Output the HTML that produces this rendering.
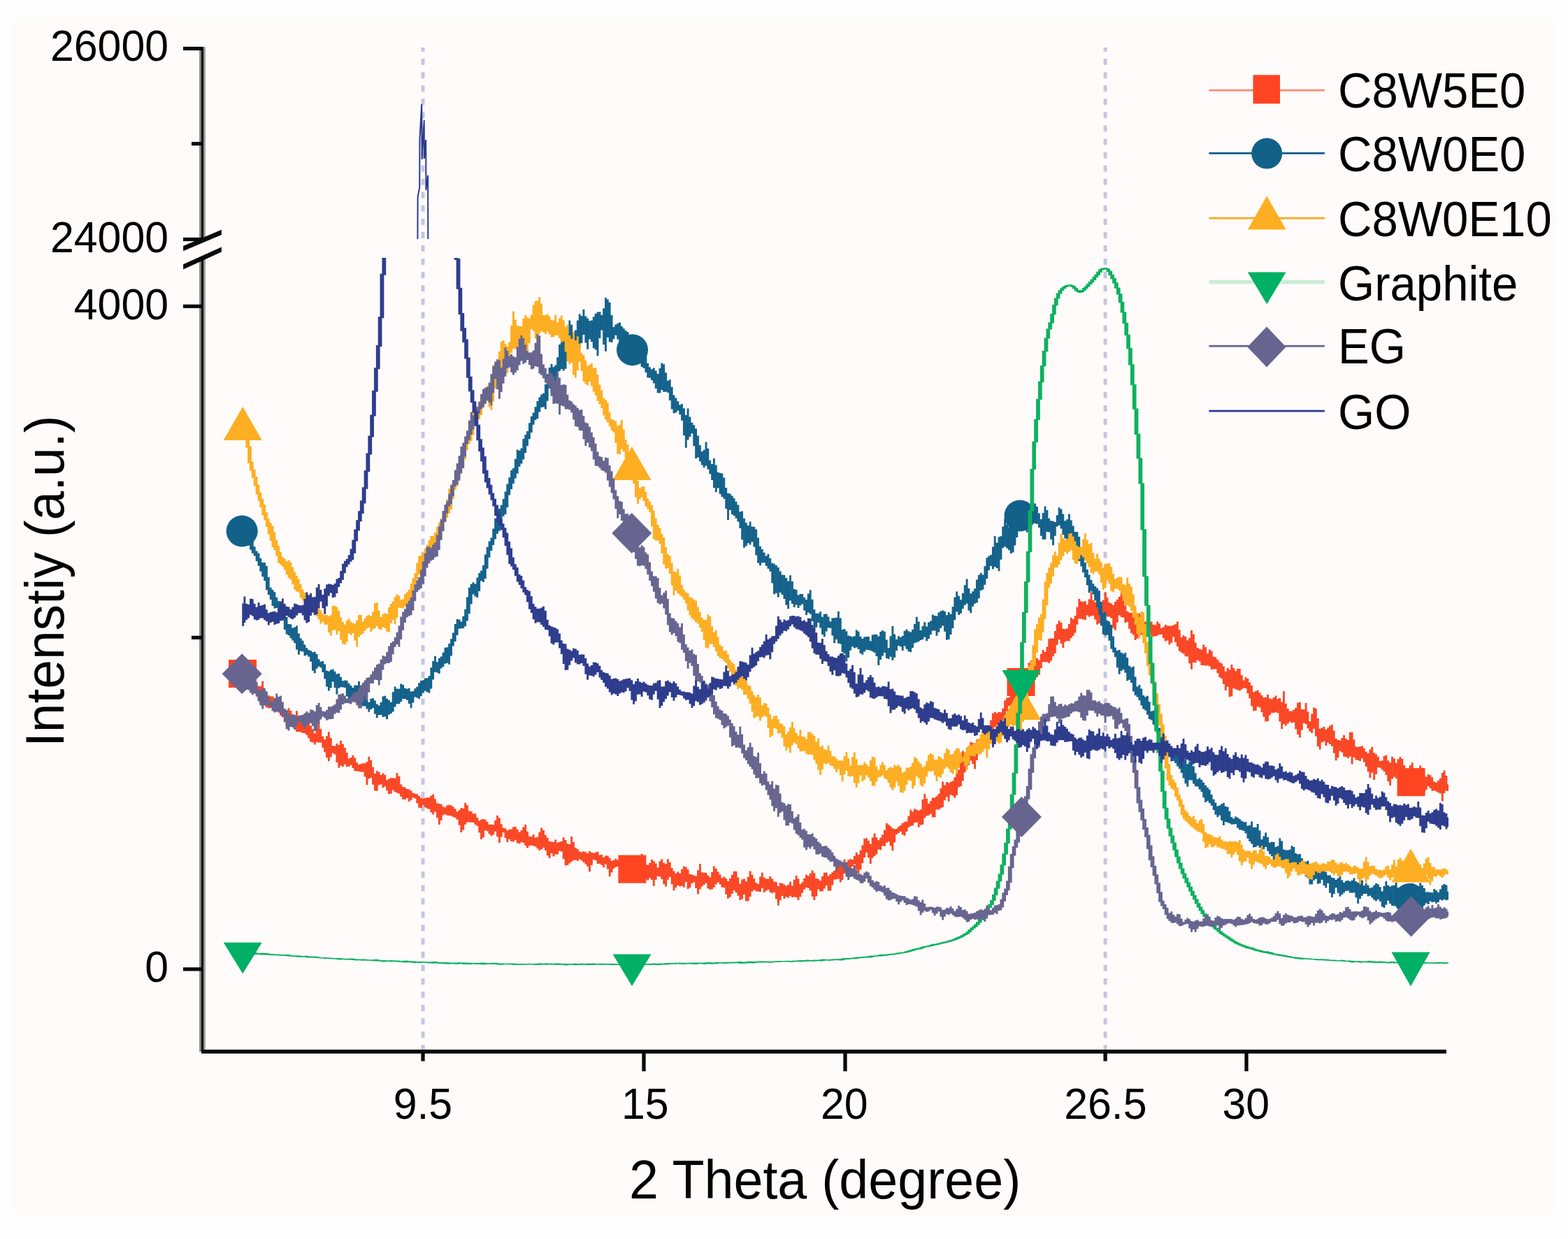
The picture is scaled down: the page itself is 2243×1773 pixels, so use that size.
<!DOCTYPE html>
<html><head><meta charset="utf-8"><title>XRD</title><style>html,body{margin:0;padding:0;background:#fefefe;overflow:hidden}svg{display:block}</style></head><body>
<svg xmlns="http://www.w3.org/2000/svg" width="2243" height="1773" viewBox="0 0 2243 1773">
<defs><clipPath id="cl"><rect x="290" y="369" width="1790" height="1134"/></clipPath><clipPath id="cu"><rect x="290" y="67" width="1790" height="275"/></clipPath></defs>
<rect x="0" y="0" width="2243" height="1773" fill="#fefefe"/>
<rect x="15" y="26" width="2212" height="1712" fill="#fefbfa"/>
<line x1="605.0" y1="68" x2="605.0" y2="1502" stroke="#c4c7df" stroke-width="5" stroke-dasharray="9 10.07" stroke-dashoffset="3"/>
<line x1="1581.1" y1="68" x2="1581.1" y2="1502" stroke="#c4c7df" stroke-width="5" stroke-dasharray="9 10.07" stroke-dashoffset="3"/>
<path fill="none" stroke="#fa4725" stroke-width="2.87" d="M347.7 962.2V970.9 M349.9 960.8V973.4 M352.7 965.0V978.6 M355.6 970.5V983.0 M358.5 974.7V983.8 M361.3 971.7V986.3 M364.2 976.3V989.4 M367.1 978.8V990.0 M370.0 982.1V1000.2 M372.8 981.8V1007.8 M375.7 974.8V1002.7 M378.6 985.1V1007.2 M381.4 994.9V1012.6 M384.3 995.3V1013.4 M387.2 996.5V1012.9 M390.0 996.5V1010.9 M392.9 998.8V1009.8 M395.8 1003.2V1013.5 M398.7 1007.0V1019.7 M401.5 1010.8V1024.2 M404.4 1014.8V1026.4 M407.3 1017.3V1033.4 M410.1 1016.6V1039.2 M413.0 1013.2V1038.5 M415.9 1017.1V1037.0 M418.7 1024.1V1037.5 M421.6 1023.1V1043.5 M424.5 1017.2V1047.3 M427.4 1024.1V1046.9 M430.2 1030.5V1047.8 M433.1 1032.0V1048.9 M436.0 1026.3V1049.2 M438.8 1033.3V1052.0 M441.7 1034.1V1056.6 M444.6 1038.5V1061.8 M447.4 1043.2V1062.6 M450.3 1049.2V1065.6 M453.2 1043.5V1062.2 M456.1 1035.2V1062.5 M458.9 1043.2V1062.8 M461.8 1053.7V1070.1 M464.7 1058.3V1076.6 M467.5 1053.3V1084.2 M470.4 1047.2V1089.2 M473.3 1056.1V1083.5 M476.1 1067.2V1077.7 M479.0 1067.4V1079.4 M481.9 1064.0V1090.9 M484.8 1065.9V1098.8 M487.6 1059.9V1095.5 M490.5 1064.8V1097.0 M493.4 1070.0V1093.7 M496.2 1076.9V1097.0 M499.1 1085.5V1096.9 M502.0 1083.9V1094.8 M504.8 1080.8V1099.0 M507.7 1084.3V1103.2 M510.6 1091.2V1103.6 M513.5 1094.0V1104.1 M516.3 1093.2V1104.5 M519.2 1092.3V1104.8 M522.1 1092.2V1111.4 M524.9 1090.0V1123.2 M527.8 1082.8V1114.4 M530.7 1087.8V1112.9 M533.5 1097.8V1122.8 M536.4 1107.1V1131.4 M539.3 1103.2V1131.8 M542.2 1104.7V1123.3 M545.0 1108.9V1122.5 M547.9 1106.5V1127.2 M550.8 1108.7V1125.6 M553.6 1116.2V1131.4 M556.5 1114.4V1136.3 M559.4 1113.3V1135.8 M562.2 1113.2V1130.4 M565.1 1113.5V1133.3 M568.0 1106.3V1134.4 M570.9 1110.7V1135.7 M573.7 1122.6V1140.1 M576.6 1125.9V1143.9 M579.5 1126.8V1144.0 M582.3 1128.9V1141.9 M585.2 1129.4V1147.1 M588.1 1131.5V1144.8 M590.9 1134.7V1141.4 M593.8 1135.8V1142.5 M596.7 1136.3V1149.4 M599.6 1139.1V1155.7 M602.4 1141.8V1156.5 M605.3 1142.6V1152.0 M608.2 1141.9V1155.3 M611.0 1141.3V1157.1 M613.9 1141.3V1157.7 M616.8 1138.4V1162.6 M619.6 1136.8V1165.5 M622.5 1143.3V1161.7 M625.4 1149.2V1170.3 M628.3 1150.3V1180.1 M631.1 1150.7V1174.0 M634.0 1154.4V1166.6 M636.9 1155.3V1165.2 M639.7 1152.5V1166.8 M642.6 1151.7V1167.0 M645.5 1152.5V1167.6 M648.3 1154.6V1169.0 M651.2 1157.4V1170.0 M654.1 1161.6V1172.7 M657.0 1159.2V1180.7 M659.8 1156.0V1190.9 M662.7 1157.1V1187.7 M665.6 1149.1V1179.9 M668.4 1152.3V1176.8 M671.3 1160.5V1176.5 M674.2 1161.3V1176.7 M677.0 1164.3V1177.0 M679.9 1164.2V1179.9 M682.8 1170.0V1182.0 M685.7 1174.4V1191.5 M688.5 1172.7V1200.9 M691.4 1171.9V1198.5 M694.3 1173.0V1188.3 M697.1 1176.0V1189.2 M700.0 1180.0V1193.4 M702.9 1179.7V1196.3 M705.7 1180.2V1194.5 M708.6 1174.0V1189.8 M711.5 1166.9V1197.2 M714.4 1170.5V1206.1 M717.2 1179.2V1197.7 M720.1 1184.7V1191.2 M723.0 1185.4V1199.1 M725.8 1188.5V1205.0 M728.7 1186.9V1201.1 M731.6 1186.8V1204.0 M734.4 1183.6V1204.6 M737.3 1182.9V1202.3 M740.2 1186.7V1206.5 M743.1 1190.8V1207.3 M745.9 1188.2V1205.2 M748.8 1183.5V1206.1 M751.7 1179.9V1210.0 M754.5 1189.8V1213.5 M757.4 1196.8V1210.6 M760.3 1197.2V1209.4 M763.1 1194.3V1210.6 M766.0 1198.7V1211.6 M768.9 1197.5V1214.3 M771.8 1190.8V1216.9 M774.6 1184.7V1215.3 M777.5 1188.1V1213.1 M780.4 1195.0V1217.0 M783.2 1199.1V1224.3 M786.1 1203.8V1227.9 M789.0 1204.4V1221.1 M791.8 1205.1V1225.5 M794.7 1201.6V1222.7 M797.6 1206.0V1222.6 M800.5 1204.8V1217.7 M803.3 1204.0V1218.4 M806.2 1198.2V1229.2 M809.1 1202.1V1238.5 M811.9 1207.2V1237.9 M814.8 1208.0V1235.4 M817.7 1197.1V1233.0 M820.5 1205.0V1231.0 M823.4 1213.1V1230.8 M826.3 1215.0V1232.1 M829.2 1218.4V1229.4 M832.0 1219.4V1231.2 M834.9 1218.2V1234.0 M837.8 1219.2V1236.8 M840.6 1221.3V1240.1 M843.5 1218.1V1247.2 M846.4 1220.1V1238.1 M849.2 1220.8V1230.3 M852.1 1219.8V1231.0 M855.0 1218.8V1236.0 M857.9 1223.4V1236.0 M860.7 1223.1V1238.1 M863.6 1226.7V1241.3 M866.5 1224.6V1236.8 M869.3 1224.5V1243.6 M872.2 1227.7V1254.3 M875.1 1231.7V1248.6 M877.9 1231.0V1242.9 M880.8 1228.8V1241.0 M883.7 1230.8V1240.0 M886.6 1229.1V1243.0 M889.4 1225.5V1242.6 M892.3 1227.4V1246.8 M895.2 1234.4V1245.8 M898.0 1230.6V1244.7 M900.9 1234.9V1250.2 M903.8 1239.5V1254.2 M906.6 1234.0V1251.4 M909.5 1227.1V1245.9 M912.4 1230.0V1249.0 M915.3 1231.2V1247.3 M918.1 1221.9V1247.2 M921.0 1229.3V1250.9 M923.9 1236.9V1257.8 M926.7 1237.7V1259.7 M929.6 1235.1V1256.5 M932.5 1229.9V1259.0 M935.3 1232.2V1268.1 M938.2 1235.5V1258.9 M941.1 1241.4V1253.8 M944.0 1232.2V1254.6 M946.8 1229.4V1258.1 M949.7 1234.7V1265.2 M952.6 1236.2V1268.4 M955.4 1229.3V1258.7 M958.3 1234.1V1255.0 M961.2 1242.0V1265.2 M964.0 1246.5V1274.2 M966.9 1249.8V1269.9 M969.8 1247.5V1267.0 M972.7 1249.8V1268.2 M975.5 1243.7V1267.8 M978.4 1239.8V1269.8 M981.3 1240.8V1262.0 M984.1 1244.2V1271.9 M987.0 1250.9V1270.3 M989.9 1251.6V1264.2 M992.7 1252.7V1262.6 M995.6 1253.4V1270.9 M998.5 1245.3V1279.4 M1001.4 1236.2V1272.4 M1004.2 1248.6V1268.5 M1007.1 1248.8V1266.3 M1010.0 1248.9V1263.7 M1012.8 1252.5V1271.2 M1015.7 1255.2V1273.0 M1018.6 1247.9V1272.6 M1021.4 1239.5V1269.8 M1024.3 1242.7V1265.6 M1027.2 1247.4V1262.6 M1030.1 1251.5V1265.5 M1032.9 1256.6V1269.8 M1035.8 1254.5V1270.3 M1038.7 1257.1V1279.7 M1041.5 1260.9V1285.8 M1044.4 1257.1V1283.8 M1047.3 1251.7V1279.0 M1050.1 1246.8V1274.2 M1053.0 1247.1V1277.2 M1055.9 1255.4V1281.8 M1058.8 1264.8V1287.9 M1061.6 1258.4V1286.6 M1064.5 1257.6V1279.9 M1067.4 1261.2V1289.4 M1070.2 1254.7V1289.4 M1073.1 1246.4V1283.3 M1076.0 1251.6V1275.7 M1078.8 1257.2V1273.4 M1081.7 1263.3V1275.3 M1084.6 1264.9V1275.7 M1087.5 1254.7V1276.3 M1090.3 1248.7V1270.8 M1093.2 1255.7V1276.9 M1096.1 1257.6V1274.7 M1098.9 1257.7V1273.1 M1101.8 1253.9V1276.8 M1104.7 1257.5V1278.3 M1107.5 1261.4V1276.7 M1110.4 1262.2V1286.4 M1113.3 1268.1V1295.8 M1116.2 1263.4V1288.4 M1119.0 1263.9V1282.1 M1121.9 1265.8V1285.9 M1124.8 1267.8V1283.4 M1127.6 1266.1V1284.7 M1130.5 1261.7V1282.1 M1133.4 1267.4V1284.2 M1136.2 1258.8V1283.5 M1139.1 1253.0V1284.1 M1142.0 1257.4V1287.9 M1144.9 1265.2V1283.6 M1147.7 1262.6V1277.8 M1150.6 1257.1V1272.7 M1153.5 1251.8V1270.1 M1156.3 1253.6V1271.1 M1159.2 1249.7V1274.5 M1162.1 1245.5V1283.0 M1164.9 1249.2V1288.0 M1167.8 1257.1V1282.5 M1170.7 1257.9V1272.6 M1173.6 1260.3V1275.4 M1176.4 1253.9V1275.4 M1179.3 1248.7V1271.5 M1182.2 1248.6V1267.3 M1185.0 1253.4V1274.5 M1187.9 1250.9V1274.7 M1190.8 1248.2V1266.5 M1193.6 1245.8V1258.7 M1196.5 1242.1V1258.2 M1199.4 1238.4V1257.6 M1202.3 1236.3V1262.6 M1205.1 1234.8V1258.9 M1208.0 1229.7V1250.0 M1210.9 1233.7V1250.1 M1213.7 1230.5V1248.6 M1216.6 1229.2V1244.4 M1219.5 1230.2V1239.9 M1222.3 1224.9V1236.7 M1225.2 1219.7V1244.4 M1228.1 1223.1V1249.9 M1231.0 1216.8V1244.5 M1233.8 1209.5V1235.3 M1236.7 1200.3V1227.2 M1239.6 1199.2V1220.1 M1242.4 1202.9V1227.3 M1245.3 1207.8V1235.9 M1248.2 1198.6V1227.7 M1251.0 1192.4V1225.1 M1253.9 1198.3V1222.5 M1256.8 1202.3V1215.6 M1259.7 1198.7V1216.2 M1262.5 1194.4V1210.6 M1265.4 1188.0V1210.9 M1268.3 1177.9V1205.9 M1271.1 1180.0V1204.3 M1274.0 1182.2V1210.4 M1276.9 1184.9V1217.3 M1279.7 1186.6V1205.6 M1282.6 1185.7V1194.0 M1285.5 1183.1V1192.0 M1288.4 1180.9V1190.1 M1291.2 1178.0V1194.5 M1294.1 1176.3V1195.8 M1297.0 1175.4V1190.1 M1299.8 1167.9V1183.9 M1302.7 1158.7V1182.2 M1305.6 1161.5V1181.4 M1308.4 1157.4V1177.4 M1311.3 1158.5V1176.8 M1314.2 1160.0V1183.8 M1317.1 1158.6V1180.5 M1319.9 1144.0V1180.1 M1322.8 1135.9V1170.4 M1325.7 1142.9V1167.5 M1328.5 1150.1V1166.8 M1331.4 1146.3V1164.8 M1334.3 1141.6V1169.4 M1337.1 1141.4V1169.4 M1340.0 1139.2V1158.3 M1342.9 1136.0V1158.7 M1345.8 1128.2V1156.5 M1348.6 1118.6V1155.1 M1351.5 1123.4V1145.3 M1354.4 1118.9V1140.4 M1357.2 1120.5V1146.7 M1360.1 1118.8V1137.5 M1363.0 1117.5V1138.7 M1365.8 1112.3V1141.8 M1368.7 1105.4V1138.1 M1371.6 1101.5V1126.6 M1374.5 1087.5V1125.3 M1377.3 1074.5V1117.5 M1380.2 1076.7V1105.2 M1383.1 1077.5V1098.1 M1385.9 1071.4V1094.7 M1388.8 1061.7V1088.6 M1391.7 1063.2V1093.0 M1394.5 1064.4V1100.4 M1397.4 1058.2V1087.9 M1400.3 1060.1V1076.5 M1403.2 1058.9V1074.6 M1406.0 1055.3V1070.8 M1408.9 1051.5V1067.1 M1411.8 1045.5V1066.7 M1414.6 1038.7V1063.3 M1417.5 1030.5V1054.1 M1420.4 1020.8V1044.2 M1423.2 1018.7V1040.4 M1426.1 1020.4V1040.1 M1429.0 1018.9V1038.2 M1431.9 1019.2V1033.3 M1434.7 1013.7V1031.2 M1437.6 1002.3V1027.9 M1440.5 998.8V1017.7 M1443.3 997.9V1010.4 M1446.2 993.1V1009.1 M1449.1 985.1V1007.6 M1451.9 978.1V1000.3 M1454.8 968.9V995.4 M1457.7 963.0V989.5 M1460.6 958.7V978.4 M1463.4 955.2V977.6 M1466.3 958.7V980.4 M1469.2 958.9V986.5 M1472.0 948.4V990.8 M1474.9 944.9V978.6 M1477.8 950.8V975.8 M1480.6 941.7V972.7 M1483.5 941.8V968.8 M1486.4 944.5V965.7 M1489.3 935.8V956.3 M1492.1 929.9V947.6 M1495.0 933.0V947.3 M1497.9 925.5V947.4 M1500.7 914.2V948.9 M1503.6 913.4V945.4 M1506.5 913.7V939.3 M1509.3 903.1V935.1 M1512.2 893.3V922.8 M1515.1 888.3V915.2 M1518.0 890.9V921.0 M1520.8 899.7V926.9 M1523.7 900.2V918.6 M1526.6 899.2V916.9 M1529.4 893.0V917.2 M1532.3 883.9V912.9 M1535.2 886.0V909.7 M1538.0 881.2V905.6 M1540.9 868.8V893.8 M1543.8 857.1V885.4 M1546.7 860.5V885.6 M1549.5 861.2V886.4 M1552.4 860.3V887.0 M1555.3 865.3V880.4 M1558.1 857.4V882.8 M1561.0 847.6V881.5 M1563.9 858.8V880.9 M1566.7 861.6V886.5 M1569.6 861.1V893.8 M1572.5 868.5V891.9 M1575.4 866.2V883.9 M1578.2 858.5V879.4 M1581.1 847.8V879.7 M1584.0 855.2V882.4 M1586.8 862.3V882.6 M1589.7 863.4V884.4 M1592.6 865.8V898.7 M1595.4 861.0V901.7 M1598.3 857.9V890.9 M1601.2 853.9V880.4 M1604.1 847.6V883.1 M1606.9 852.1V883.7 M1609.8 865.4V891.0 M1612.7 874.7V889.9 M1615.5 876.5V899.7 M1618.4 877.1V905.9 M1621.3 878.1V908.5 M1624.1 883.9V916.1 M1627.0 881.4V913.8 M1629.9 877.7V903.5 M1632.8 883.2V908.8 M1635.6 890.2V904.7 M1638.5 889.5V900.8 M1641.4 891.0V901.9 M1644.2 891.1V904.1 M1647.1 889.4V909.8 M1650.0 893.8V911.1 M1652.8 894.4V910.4 M1655.7 889.6V909.4 M1658.6 892.2V908.1 M1661.5 898.9V907.9 M1664.3 897.4V912.9 M1667.2 894.1V917.5 M1670.1 895.5V916.4 M1672.9 895.4V922.6 M1675.8 895.4V919.8 M1678.7 894.6V911.5 M1681.5 893.2V918.9 M1684.4 889.6V925.0 M1687.3 901.3V931.7 M1690.2 912.2V933.8 M1693.0 909.2V935.6 M1695.9 911.0V939.2 M1698.8 916.3V939.5 M1701.6 913.0V949.4 M1704.5 902.1V957.8 M1707.4 907.6V947.9 M1710.2 919.5V948.2 M1713.1 927.1V944.6 M1716.0 928.8V946.6 M1718.9 929.5V952.1 M1721.7 922.6V952.1 M1724.6 925.9V952.8 M1727.5 935.2V952.2 M1730.3 929.5V953.6 M1733.2 931.5V958.1 M1736.1 939.5V957.6 M1738.9 940.6V957.3 M1741.8 943.8V963.2 M1744.7 947.4V969.3 M1747.6 949.3V970.9 M1750.4 953.4V978.9 M1753.3 960.8V988.0 M1756.2 956.0V982.7 M1759.0 958.6V997.2 M1761.9 950.9V996.4 M1764.8 956.0V984.9 M1767.6 960.2V986.2 M1770.5 957.1V987.4 M1773.4 957.1V988.4 M1776.3 966.0V986.6 M1779.1 973.4V984.6 M1782.0 969.2V984.9 M1784.9 970.9V991.9 M1787.7 976.6V999.2 M1790.6 981.0V1010.2 M1793.5 990.6V1017.2 M1796.3 989.0V1016.9 M1799.2 987.8V1011.0 M1802.1 991.2V1012.6 M1805.0 995.0V1019.3 M1807.8 998.3V1025.7 M1810.7 997.9V1032.6 M1813.6 994.1V1032.1 M1816.4 999.5V1023.5 M1819.3 1000.6V1020.2 M1822.2 998.0V1020.1 M1825.0 995.5V1019.2 M1827.9 1000.3V1020.2 M1830.8 998.9V1032.5 M1833.7 1004.6V1043.2 M1836.5 989.3V1036.1 M1839.4 1006.7V1038.5 M1842.3 1014.1V1035.6 M1845.1 1017.7V1032.8 M1848.0 1017.5V1034.4 M1850.9 1015.4V1033.4 M1853.7 1013.1V1043.4 M1856.6 1005.6V1050.9 M1859.5 1005.1V1055.5 M1862.4 1014.9V1044.7 M1865.2 1015.2V1034.8 M1868.1 1006.0V1036.3 M1871.0 1018.5V1042.2 M1873.8 1032.2V1046.8 M1876.7 1021.4V1048.9 M1879.6 1012.6V1042.7 M1882.4 1013.7V1053.5 M1885.3 1028.0V1068.2 M1888.2 1042.8V1072.5 M1891.1 1041.6V1062.5 M1893.9 1040.1V1060.8 M1896.8 1044.0V1066.9 M1899.7 1041.4V1062.7 M1902.5 1038.4V1064.9 M1905.4 1037.1V1067.9 M1908.3 1045.8V1077.8 M1911.1 1057.0V1088.2 M1914.0 1058.8V1084.3 M1916.9 1059.4V1074.7 M1919.8 1056.0V1076.8 M1922.6 1052.1V1082.7 M1925.5 1056.9V1083.1 M1928.4 1058.9V1085.1 M1931.2 1048.0V1082.5 M1934.1 1047.7V1093.6 M1937.0 1058.3V1083.8 M1939.8 1068.4V1087.2 M1942.7 1069.0V1088.1 M1945.6 1068.3V1089.1 M1948.5 1067.4V1085.2 M1951.3 1070.8V1090.5 M1954.2 1075.4V1097.1 M1957.1 1078.0V1104.3 M1959.9 1072.4V1113.1 M1962.8 1069.1V1105.7 M1965.7 1077.3V1116.0 M1968.5 1079.2V1108.0 M1971.4 1082.7V1098.3 M1974.3 1088.9V1098.4 M1977.2 1088.4V1101.4 M1980.0 1082.0V1103.9 M1982.9 1080.5V1109.1 M1985.8 1088.3V1117.9 M1988.6 1091.3V1124.1 M1991.5 1082.7V1114.8 M1994.4 1085.3V1111.8 M1997.2 1091.7V1114.0 M2000.1 1086.3V1108.3 M2003.0 1083.0V1115.8 M2005.9 1086.0V1124.5 M2008.7 1095.1V1126.0 M2011.6 1103.1V1132.7 M2014.5 1101.9V1135.1 M2017.3 1095.2V1128.0 M2020.2 1091.2V1130.2 M2023.1 1105.4V1130.2 M2025.9 1108.9V1127.8 M2028.8 1100.9V1126.1 M2031.7 1095.4V1128.0 M2034.6 1098.7V1133.5 M2037.4 1111.2V1132.5 M2040.3 1111.4V1130.2 M2043.2 1108.0V1125.1 M2046.0 1109.3V1128.2 M2048.9 1112.5V1131.7 M2051.8 1118.4V1131.2 M2054.6 1120.1V1132.6 M2057.5 1116.7V1134.2 M2060.4 1113.8V1135.5 M2063.3 1105.8V1146.6 M2066.1 1102.5V1135.1 M2069.0 1110.0V1131.1 M2070.6 1122.2V1131.9"/>
<rect x="327.0" y="944.0" width="40" height="40" fill="#ff4422"/>
<rect x="884.4" y="1223.7" width="40" height="40" fill="#ff4422"/>
<rect x="1440.5" y="956.0" width="40" height="40" fill="#ff4422"/>
<rect x="1998.6" y="1099.2" width="40" height="40" fill="#ff4422"/>
<path fill="none" stroke="#14628b" stroke-width="2.87" d="M347.7 753.9V767.2 M349.9 750.0V772.8 M352.7 758.9V776.7 M355.6 769.4V780.6 M358.5 771.1V786.7 M361.3 774.4V791.8 M364.2 782.3V795.4 M367.1 788.4V802.9 M370.0 791.5V809.7 M372.8 798.7V817.8 M375.7 804.9V825.3 M378.6 805.0V831.1 M381.4 809.9V844.3 M384.3 825.8V851.2 M387.2 840.7V858.0 M390.0 844.1V866.9 M392.9 847.2V870.4 M395.8 854.8V870.1 M398.7 860.3V877.2 M401.5 861.5V883.1 M404.4 866.6V887.9 M407.3 873.2V900.9 M410.1 883.1V907.5 M413.0 893.1V909.2 M415.9 893.2V913.2 M418.7 898.4V916.5 M421.6 897.5V920.3 M424.5 895.4V929.6 M427.4 906.5V936.7 M430.2 913.2V931.8 M433.1 916.7V932.5 M436.0 922.4V938.4 M438.8 927.2V937.2 M441.7 930.1V939.8 M444.6 931.3V946.8 M447.4 933.3V959.8 M450.3 932.8V963.3 M453.2 935.9V956.8 M456.1 943.2V953.7 M458.9 946.8V955.5 M461.8 945.9V962.0 M464.7 950.6V971.6 M467.5 959.8V982.5 M470.4 960.6V988.6 M473.3 958.6V984.4 M476.1 957.4V975.4 M479.0 960.8V984.0 M481.9 964.6V993.5 M484.8 963.8V984.7 M487.6 968.8V983.3 M490.5 974.3V983.6 M493.4 973.5V984.0 M496.2 973.9V996.5 M499.1 977.8V1003.4 M502.0 981.1V1001.8 M504.8 984.0V1000.1 M507.7 980.4V997.5 M510.6 980.8V1000.8 M513.5 974.9V1005.0 M516.3 983.6V1009.5 M519.2 984.1V1010.4 M522.1 991.6V1010.6 M524.9 1000.9V1014.5 M527.8 1004.8V1018.8 M530.7 1000.1V1014.9 M533.5 999.0V1013.3 M536.4 1002.5V1021.8 M539.3 1007.6V1027.3 M542.2 1009.6V1023.1 M545.0 1004.9V1023.1 M547.9 996.6V1026.1 M550.8 995.8V1025.4 M553.6 999.7V1029.2 M556.5 1001.9V1022.7 M559.4 1004.7V1021.0 M562.2 990.3V1018.6 M565.1 982.4V1011.6 M568.0 985.6V1007.2 M570.9 985.8V1007.2 M573.7 978.4V1004.2 M576.6 980.0V1000.3 M579.5 984.8V1000.1 M582.3 985.8V1001.8 M585.2 984.8V1007.0 M588.1 989.5V1013.3 M590.9 988.9V1005.6 M593.8 985.3V997.4 M596.7 982.7V998.6 M599.6 977.3V1000.1 M602.4 973.9V996.3 M605.3 973.2V991.7 M608.2 970.5V988.8 M611.0 970.3V990.2 M613.9 967.2V991.7 M616.8 955.2V985.4 M619.6 945.9V972.4 M622.5 938.7V961.8 M625.4 947.2V962.6 M628.3 941.9V964.0 M631.1 939.6V956.4 M634.0 933.8V954.3 M636.9 926.8V949.8 M639.7 926.2V948.7 M642.6 921.1V950.7 M645.5 914.2V938.6 M648.3 905.4V924.6 M651.2 893.0V918.0 M654.1 886.1V908.9 M657.0 886.6V899.7 M659.8 889.4V899.2 M662.7 882.0V899.1 M665.6 872.1V896.2 M668.4 854.5V888.6 M671.3 840.7V878.2 M674.2 835.7V864.4 M677.0 833.3V850.6 M679.9 835.4V853.4 M682.8 826.6V855.0 M685.7 820.0V845.9 M688.5 816.5V831.2 M691.4 808.7V833.0 M694.3 793.4V827.9 M697.1 782.7V813.8 M700.0 774.5V797.8 M702.9 769.5V788.1 M705.7 756.4V779.9 M708.6 741.9V771.5 M711.5 732.8V763.7 M714.4 728.0V759.7 M717.2 722.7V752.0 M720.1 714.0V738.8 M723.0 703.5V736.0 M725.8 692.4V726.0 M728.7 683.2V708.4 M731.6 673.0V699.9 M734.4 670.1V692.0 M737.3 656.7V684.4 M740.2 643.5V677.7 M743.1 644.8V667.8 M745.9 641.4V663.4 M748.8 627.9V657.6 M751.7 622.2V648.1 M754.5 616.9V638.0 M757.4 605.3V628.3 M760.3 595.7V618.9 M763.1 590.4V607.7 M766.0 582.3V601.0 M768.9 574.1V599.0 M771.8 568.6V589.5 M774.6 564.6V582.9 M777.5 562.7V582.4 M780.4 550.0V585.4 M783.2 535.4V573.8 M786.1 526.0V555.8 M789.0 520.9V561.8 M791.8 525.3V566.1 M794.7 522.5V551.0 M797.6 511.3V538.3 M800.5 493.0V531.0 M803.3 482.9V527.9 M806.2 480.6V530.4 M809.1 487.9V527.8 M811.9 477.0V516.5 M814.8 458.5V503.7 M817.7 464.7V500.3 M820.5 478.2V500.4 M823.4 472.4V496.7 M826.3 458.6V498.6 M829.2 449.2V498.1 M832.0 452.2V490.9 M834.9 442.8V479.1 M837.8 452.4V490.4 M840.6 455.5V499.8 M843.5 458.9V485.5 M846.4 458.4V489.3 M849.2 453.2V498.3 M852.1 448.7V500.5 M855.0 446.4V509.3 M857.9 446.2V484.1 M860.7 450.7V472.4 M863.6 441.2V493.1 M866.5 425.9V502.7 M869.3 428.6V482.7 M872.2 432.8V489.2 M875.1 451.0V489.9 M877.9 468.1V485.3 M880.8 464.6V479.8 M883.7 462.8V485.6 M886.6 461.5V498.4 M889.4 467.1V506.5 M892.3 469.9V496.9 M895.2 473.1V491.2 M898.0 475.0V504.1 M900.9 482.2V516.9 M903.8 492.6V517.5 M906.6 486.9V508.8 M909.5 486.7V514.7 M912.4 492.8V516.8 M915.3 498.5V520.3 M918.1 500.4V525.0 M921.0 499.7V527.1 M923.9 508.9V532.9 M926.7 519.8V540.6 M929.6 525.6V540.8 M932.5 528.6V544.1 M935.3 526.6V548.5 M938.2 530.5V555.9 M941.1 535.0V562.3 M944.0 527.1V562.4 M946.8 519.4V558.0 M949.7 521.3V561.0 M952.6 533.3V560.6 M955.4 544.8V561.8 M958.3 543.2V573.0 M961.2 553.7V585.5 M964.0 565.4V591.3 M966.9 569.4V590.4 M969.8 574.3V587.8 M972.7 579.3V593.3 M975.5 578.0V601.8 M978.4 584.2V623.0 M981.3 593.9V640.7 M984.1 584.4V629.5 M987.0 596.6V624.9 M989.9 604.7V620.2 M992.7 608.3V638.2 M995.6 613.2V656.0 M998.5 623.4V654.4 M1001.4 636.9V660.3 M1004.2 646.0V665.6 M1007.1 643.8V669.2 M1010.0 632.5V666.5 M1012.8 641.7V671.4 M1015.7 658.8V678.2 M1018.6 664.0V687.0 M1021.4 656.1V697.9 M1024.3 665.6V704.3 M1027.2 675.7V698.6 M1030.1 676.8V707.1 M1032.9 677.6V710.9 M1035.8 683.4V713.8 M1038.7 697.9V727.9 M1041.5 705.7V744.0 M1044.4 706.4V730.0 M1047.3 709.5V736.0 M1050.1 713.1V738.0 M1053.0 717.7V741.7 M1055.9 722.6V746.5 M1058.8 732.2V755.9 M1061.6 731.6V772.3 M1064.5 741.7V783.8 M1067.4 747.9V781.5 M1070.2 751.9V777.2 M1073.1 746.6V779.4 M1076.0 753.4V775.4 M1078.8 753.9V782.5 M1081.7 757.5V794.6 M1084.6 769.6V805.8 M1087.5 781.8V809.2 M1090.3 785.9V805.3 M1093.2 790.8V805.2 M1096.1 795.5V809.7 M1098.9 792.7V813.7 M1101.8 799.0V817.7 M1104.7 805.8V834.4 M1107.5 806.7V850.3 M1110.4 808.9V848.7 M1113.3 811.9V854.5 M1116.2 817.5V847.9 M1119.0 822.4V851.1 M1121.9 823.1V856.9 M1124.8 827.1V865.7 M1127.6 831.5V871.3 M1130.5 823.2V859.6 M1133.4 832.0V864.1 M1136.2 843.0V869.1 M1139.1 844.0V865.5 M1142.0 851.5V870.0 M1144.9 849.9V866.5 M1147.7 850.0V864.5 M1150.6 855.1V873.6 M1153.5 858.1V880.2 M1156.3 849.5V876.4 M1159.2 844.3V878.8 M1162.1 857.7V889.0 M1164.9 872.2V902.2 M1167.8 877.8V897.8 M1170.7 877.7V890.9 M1173.6 875.3V898.5 M1176.4 882.8V908.0 M1179.3 878.8V911.3 M1182.2 878.5V903.4 M1185.0 882.6V898.6 M1187.9 889.2V898.8 M1190.8 884.5V909.5 M1193.6 884.3V920.2 M1196.5 883.7V915.0 M1199.4 874.9V920.8 M1202.3 884.5V921.5 M1205.1 901.0V933.0 M1208.0 900.1V935.3 M1210.9 903.3V946.4 M1213.7 909.6V941.1 M1216.6 910.3V930.8 M1219.5 911.3V925.2 M1222.3 910.2V927.6 M1225.2 901.6V926.5 M1228.1 903.5V928.9 M1231.0 910.7V935.0 M1233.8 914.0V936.7 M1236.7 911.4V932.5 M1239.6 910.9V929.7 M1242.4 910.9V930.0 M1245.3 917.3V931.1 M1248.2 908.4V932.2 M1251.0 908.1V934.0 M1253.9 907.9V939.0 M1256.8 910.6V952.0 M1259.7 904.1V944.1 M1262.5 901.9V938.4 M1265.4 903.7V934.1 M1268.3 915.4V941.9 M1271.1 927.2V943.0 M1274.0 910.2V939.7 M1276.9 896.1V945.1 M1279.7 907.4V940.7 M1282.6 915.1V931.2 M1285.5 910.3V924.0 M1288.4 912.1V925.2 M1291.2 910.0V930.9 M1294.1 902.8V924.6 M1297.0 900.6V928.8 M1299.8 903.3V932.2 M1302.7 904.6V933.3 M1305.6 900.7V927.0 M1308.4 893.0V920.3 M1311.3 882.7V919.2 M1314.2 889.6V918.0 M1317.1 902.1V916.1 M1319.9 896.0V914.9 M1322.8 890.2V911.8 M1325.7 896.5V917.3 M1328.5 890.4V914.0 M1331.4 888.4V908.2 M1334.3 879.4V902.5 M1337.1 881.1V902.6 M1340.0 881.4V909.8 M1342.9 876.4V904.7 M1345.8 874.5V898.8 M1348.6 873.4V895.6 M1351.5 874.7V903.7 M1354.4 880.3V915.8 M1357.2 876.1V915.1 M1360.1 878.7V908.0 M1363.0 868.3V899.0 M1365.8 854.8V887.1 M1368.7 846.5V875.6 M1371.6 852.7V879.9 M1374.5 858.2V877.7 M1377.3 848.8V871.3 M1380.2 837.3V865.9 M1383.1 828.5V863.8 M1385.9 841.9V873.8 M1388.8 849.3V877.3 M1391.7 846.2V867.8 M1394.5 842.2V863.7 M1397.4 829.6V862.4 M1400.3 822.8V856.2 M1403.2 819.7V844.9 M1406.0 822.4V843.8 M1408.9 810.3V836.7 M1411.8 798.3V828.0 M1414.6 795.7V816.1 M1417.5 794.1V810.1 M1420.4 782.4V814.6 M1423.2 767.0V811.3 M1426.1 776.6V813.0 M1429.0 768.2V817.2 M1431.9 767.2V800.8 M1434.7 753.6V784.2 M1437.6 742.5V782.3 M1440.5 750.6V784.5 M1443.3 754.2V787.3 M1446.2 752.8V791.9 M1449.1 751.8V790.4 M1451.9 753.2V780.5 M1454.8 739.6V768.9 M1457.7 732.3V758.8 M1460.6 730.5V747.8 M1463.4 735.9V753.5 M1466.3 738.3V758.2 M1469.2 734.0V761.8 M1472.0 732.6V755.4 M1474.9 728.9V748.8 M1477.8 724.2V743.2 M1480.6 720.6V749.2 M1483.5 725.1V749.8 M1486.4 734.6V755.1 M1489.3 742.9V766.7 M1492.1 734.0V771.9 M1495.0 724.4V771.7 M1497.9 729.9V761.0 M1500.7 741.7V761.6 M1503.6 745.3V772.1 M1506.5 745.8V780.3 M1509.3 746.9V766.8 M1512.2 737.2V753.5 M1515.1 726.3V751.8 M1518.0 728.4V756.4 M1520.8 735.5V765.3 M1523.7 745.2V770.4 M1526.6 743.3V772.8 M1529.4 735.5V772.0 M1532.3 744.4V777.7 M1535.2 752.5V783.0 M1538.0 761.0V788.6 M1540.9 761.3V797.2 M1543.8 768.1V803.1 M1546.7 784.8V810.6 M1549.5 797.2V819.2 M1552.4 805.0V826.2 M1555.3 815.1V837.5 M1558.1 822.4V848.2 M1561.0 829.9V846.2 M1563.9 835.2V850.4 M1566.7 839.1V859.5 M1569.6 841.5V869.0 M1572.5 845.2V880.1 M1575.4 861.1V895.6 M1578.2 876.9V907.8 M1581.1 876.0V909.4 M1584.0 887.7V908.5 M1586.8 889.6V916.8 M1589.7 894.0V928.5 M1592.6 910.8V933.4 M1595.4 926.5V940.3 M1598.3 930.9V955.2 M1601.2 930.0V964.8 M1604.1 933.8V959.9 M1606.9 935.6V957.9 M1609.8 934.1V962.8 M1612.7 941.2V974.3 M1615.5 952.8V972.7 M1618.4 954.9V977.1 M1621.3 953.7V989.5 M1624.1 968.4V995.1 M1627.0 982.6V997.4 M1629.9 980.0V1002.3 M1632.8 985.4V1009.6 M1635.6 994.9V1014.6 M1638.5 997.2V1016.6 M1641.4 995.8V1022.8 M1644.2 1004.2V1029.1 M1647.1 1017.8V1030.4 M1650.0 1016.7V1036.9 M1652.8 1013.3V1043.9 M1655.7 1027.0V1049.7 M1658.6 1041.5V1061.3 M1661.5 1044.0V1070.9 M1664.3 1051.1V1075.3 M1667.2 1059.5V1079.1 M1670.1 1066.1V1082.3 M1672.9 1070.5V1083.4 M1675.8 1071.6V1082.2 M1678.7 1073.6V1088.9 M1681.5 1077.9V1092.1 M1684.4 1079.0V1096.5 M1687.3 1082.8V1100.2 M1690.2 1091.2V1105.9 M1693.0 1088.4V1113.6 M1695.9 1082.3V1121.3 M1698.8 1093.3V1125.8 M1701.6 1090.1V1116.2 M1704.5 1093.1V1116.6 M1707.4 1096.4V1121.6 M1710.2 1106.3V1125.3 M1713.1 1115.1V1125.6 M1716.0 1113.2V1129.4 M1718.9 1115.9V1133.0 M1721.7 1119.7V1141.2 M1724.6 1123.9V1148.1 M1727.5 1127.0V1146.2 M1730.3 1129.9V1149.3 M1733.2 1136.9V1152.7 M1736.1 1143.8V1159.1 M1738.9 1148.7V1165.8 M1741.8 1153.8V1169.3 M1744.7 1152.6V1166.7 M1747.6 1150.6V1174.0 M1750.4 1149.1V1181.1 M1753.3 1154.1V1175.9 M1756.2 1154.7V1177.0 M1759.0 1160.9V1178.3 M1761.9 1169.2V1179.7 M1764.8 1171.5V1179.5 M1767.6 1168.4V1179.2 M1770.5 1170.0V1184.7 M1773.4 1172.1V1187.4 M1776.3 1174.4V1187.7 M1779.1 1176.3V1188.9 M1782.0 1176.2V1192.4 M1784.9 1181.7V1199.8 M1787.7 1181.1V1204.1 M1790.6 1175.5V1207.5 M1793.5 1184.0V1212.5 M1796.3 1184.1V1212.1 M1799.2 1178.9V1210.1 M1802.1 1188.4V1213.1 M1805.0 1201.2V1215.4 M1807.8 1196.4V1215.3 M1810.7 1191.6V1212.0 M1813.6 1198.0V1217.8 M1816.4 1205.8V1222.3 M1819.3 1204.8V1225.2 M1822.2 1204.9V1230.6 M1825.0 1212.1V1232.4 M1827.9 1210.4V1234.2 M1830.8 1199.6V1230.6 M1833.7 1203.4V1232.9 M1836.5 1215.4V1231.0 M1839.4 1216.6V1232.2 M1842.3 1216.5V1233.5 M1845.1 1215.7V1235.7 M1848.0 1210.2V1238.6 M1850.9 1212.0V1237.5 M1853.7 1220.9V1242.0 M1856.6 1222.4V1243.1 M1859.5 1222.0V1243.1 M1862.4 1228.0V1250.3 M1865.2 1234.9V1249.6 M1868.1 1233.2V1254.2 M1871.0 1231.7V1256.5 M1873.8 1238.6V1265.6 M1876.7 1242.8V1265.6 M1879.6 1241.9V1259.7 M1882.4 1244.1V1257.8 M1885.3 1247.6V1264.7 M1888.2 1247.6V1263.9 M1891.1 1242.7V1259.1 M1893.9 1242.4V1267.2 M1896.8 1248.1V1270.4 M1899.7 1252.6V1263.9 M1902.5 1252.6V1277.8 M1905.4 1255.7V1284.1 M1908.3 1256.5V1279.2 M1911.1 1258.9V1270.3 M1914.0 1256.7V1277.7 M1916.9 1253.7V1282.8 M1919.8 1259.5V1280.3 M1922.6 1262.9V1277.6 M1925.5 1260.6V1275.0 M1928.4 1260.0V1274.5 M1931.2 1261.2V1277.5 M1934.1 1259.7V1277.7 M1937.0 1256.4V1277.3 M1939.8 1261.2V1284.2 M1942.7 1263.1V1292.9 M1945.6 1253.6V1285.9 M1948.5 1259.5V1281.7 M1951.3 1267.2V1278.9 M1954.2 1264.0V1278.9 M1957.1 1267.0V1282.6 M1959.9 1270.7V1281.7 M1962.8 1269.8V1284.7 M1965.7 1266.7V1287.8 M1968.5 1263.9V1289.6 M1971.4 1265.3V1287.0 M1974.3 1269.3V1289.9 M1977.2 1275.4V1297.6 M1980.0 1267.9V1299.0 M1982.9 1261.1V1294.8 M1985.8 1266.9V1288.7 M1988.6 1268.8V1293.3 M1991.5 1267.3V1296.0 M1994.4 1266.8V1296.5 M1997.2 1262.9V1291.2 M2000.1 1270.2V1296.5 M2003.0 1276.2V1289.3 M2005.9 1278.2V1297.5 M2008.7 1280.6V1307.6 M2011.6 1276.8V1300.5 M2014.5 1265.0V1292.0 M2017.3 1267.1V1291.6 M2020.2 1264.1V1292.9 M2023.1 1266.2V1292.3 M2025.9 1275.8V1298.7 M2028.8 1274.0V1306.5 M2031.7 1263.6V1296.4 M2034.6 1267.1V1302.3 M2037.4 1271.1V1295.5 M2040.3 1276.6V1292.4 M2043.2 1276.4V1294.0 M2046.0 1276.9V1289.8 M2048.9 1277.2V1291.2 M2051.8 1271.9V1290.6 M2054.6 1274.3V1292.9 M2057.5 1276.9V1290.9 M2060.4 1272.4V1287.4 M2063.3 1266.8V1288.6 M2066.1 1265.0V1286.9 M2069.0 1266.5V1288.2 M2070.6 1275.8V1287.6"/>
<circle cx="346.2" cy="760" r="22.5" fill="#116189"/>
<circle cx="904.5" cy="500.7" r="22.5" fill="#116189"/>
<circle cx="1459" cy="738" r="22.5" fill="#116189"/>
<circle cx="2016.5" cy="1286.5" r="22.5" fill="#116189"/>
<path fill="none" stroke="#fdae22" stroke-width="2.87" d="M347.7 614.2V628.5 M349.9 615.3V626.7 M352.7 618.9V640.5 M355.6 622.7V662.8 M358.5 638.4V673.8 M361.3 660.8V684.0 M364.2 671.8V695.5 M367.1 682.0V707.5 M370.0 693.5V716.6 M372.8 704.6V726.3 M375.7 713.7V737.3 M378.6 722.0V744.3 M381.4 732.9V754.1 M384.3 742.3V764.6 M387.2 748.3V774.1 M390.0 752.6V783.0 M392.9 761.5V787.2 M395.8 772.8V796.0 M398.7 781.1V805.8 M401.5 790.1V807.9 M404.4 797.0V811.1 M407.3 799.4V815.6 M410.1 803.5V822.6 M413.0 801.7V827.1 M415.9 804.4V829.6 M418.7 811.6V836.2 M421.6 818.2V843.8 M424.5 823.7V846.5 M427.4 829.0V847.8 M430.2 835.9V855.8 M433.1 843.4V859.2 M436.0 848.1V862.9 M438.8 849.8V868.1 M441.7 856.4V869.3 M444.6 858.7V872.9 M447.4 861.0V876.4 M450.3 863.6V877.6 M453.2 867.5V882.1 M456.1 868.8V886.2 M458.9 873.4V892.5 M461.8 878.5V890.1 M464.7 880.0V893.9 M467.5 879.9V893.8 M470.4 881.8V905.0 M473.3 880.2V909.6 M476.1 866.7V902.6 M479.0 867.1V901.3 M481.9 868.4V908.2 M484.8 874.0V903.3 M487.6 883.5V915.5 M490.5 889.9V921.4 M493.4 893.4V922.4 M496.2 888.1V918.8 M499.1 885.6V906.6 M502.0 889.5V909.0 M504.8 891.6V906.0 M507.7 892.4V916.5 M510.6 887.7V925.5 M513.5 880.0V911.6 M516.3 880.0V908.4 M519.2 889.2V906.5 M522.1 884.8V902.8 M524.9 881.3V899.4 M527.8 880.0V898.0 M530.7 881.4V904.3 M533.5 875.4V900.5 M536.4 862.9V899.0 M539.3 862.2V896.1 M542.2 873.4V900.0 M545.0 882.9V900.9 M547.9 878.7V897.6 M550.8 877.4V898.9 M553.6 878.6V903.8 M556.5 869.0V904.5 M559.4 864.0V891.9 M562.2 860.6V886.9 M565.1 854.2V893.3 M568.0 850.6V883.7 M570.9 852.4V869.8 M573.7 858.1V870.0 M576.6 857.4V870.6 M579.5 850.1V868.0 M582.3 847.2V863.8 M585.2 843.7V860.7 M588.1 835.3V858.7 M590.9 827.2V852.2 M593.8 820.3V839.0 M596.7 805.7V829.3 M599.6 795.7V822.3 M602.4 794.5V815.3 M605.3 791.0V812.6 M608.2 784.6V806.7 M611.0 779.8V798.2 M613.9 773.2V790.6 M616.8 767.1V785.2 M619.6 766.9V783.7 M622.5 762.0V777.3 M625.4 753.7V774.3 M628.3 747.4V767.4 M631.1 742.1V770.8 M634.0 733.1V759.4 M636.9 726.5V746.7 M639.7 714.4V740.9 M642.6 699.2V734.7 M645.5 693.2V729.3 M648.3 690.1V714.0 M651.2 681.9V701.3 M654.1 670.2V695.4 M657.0 662.7V683.9 M659.8 654.2V673.9 M662.7 641.3V666.4 M665.6 631.6V657.0 M668.4 616.1V644.2 M671.3 603.2V634.9 M674.2 599.1V631.1 M677.0 587.5V622.6 M679.9 579.4V608.7 M682.8 581.8V601.5 M685.7 574.2V599.7 M688.5 565.1V593.9 M691.4 564.2V583.8 M694.3 556.7V575.5 M697.1 551.9V574.2 M700.0 552.8V582.6 M702.9 538.9V586.6 M705.7 522.3V574.6 M708.6 527.7V556.1 M711.5 517.9V548.1 M714.4 502.7V540.1 M717.2 488.8V528.2 M720.1 487.3V514.8 M723.0 492.3V525.5 M725.8 495.8V533.8 M728.7 489.4V520.0 M731.6 465.8V504.7 M734.4 445.6V499.3 M737.3 457.6V499.2 M740.2 466.0V497.5 M743.1 466.8V494.0 M745.9 467.0V491.8 M748.8 456.1V486.4 M751.7 450.9V499.0 M754.5 454.5V510.5 M757.4 455.6V491.3 M760.3 450.3V470.9 M763.1 436.2V473.6 M766.0 431.0V484.4 M768.9 430.4V493.2 M771.8 424.9V477.6 M774.6 434.6V474.3 M777.5 450.9V475.6 M780.4 451.0V478.0 M783.2 449.6V474.6 M786.1 452.8V478.3 M789.0 457.9V482.4 M791.8 458.6V482.3 M794.7 450.6V479.8 M797.6 461.5V479.8 M800.5 455.5V484.0 M803.3 451.5V490.1 M806.2 458.3V488.6 M809.1 467.8V503.4 M811.9 464.9V516.0 M814.8 479.9V521.0 M817.7 485.0V518.9 M820.5 474.9V536.4 M823.4 486.9V540.4 M826.3 481.3V530.1 M829.2 491.7V517.4 M832.0 505.2V530.8 M834.9 508.2V545.7 M837.8 515.4V549.5 M840.6 523.6V551.4 M843.5 521.8V545.9 M846.4 519.9V552.3 M849.2 526.5V560.6 M852.1 526.5V565.7 M855.0 536.3V573.7 M857.9 550.4V578.3 M860.7 558.6V584.1 M863.6 569.5V594.5 M866.5 572.2V600.6 M869.3 576.3V604.5 M872.2 590.0V610.3 M875.1 599.7V616.0 M877.9 601.0V618.7 M880.8 602.7V633.9 M883.7 609.3V649.6 M886.6 608.0V650.2 M889.4 600.9V642.7 M892.3 614.5V646.4 M895.2 629.2V655.8 M898.0 636.3V664.3 M900.9 647.3V669.6 M903.8 653.9V677.8 M906.6 655.8V692.1 M909.5 668.1V711.5 M912.4 688.1V720.9 M915.3 698.4V714.5 M918.1 696.7V711.8 M921.0 696.1V717.1 M923.9 703.9V724.6 M926.7 713.4V728.5 M929.6 717.5V732.8 M932.5 722.8V753.6 M935.3 730.8V771.5 M938.2 741.6V773.6 M941.1 751.0V773.3 M944.0 755.4V778.2 M946.8 763.9V791.8 M949.7 769.3V807.7 M952.6 782.9V813.7 M955.4 792.9V813.0 M958.3 795.3V820.9 M961.2 805.6V837.6 M964.0 817.4V851.7 M966.9 818.6V845.1 M969.8 814.0V849.2 M972.7 823.6V851.5 M975.5 837.0V854.1 M978.4 843.7V858.0 M981.3 847.4V863.5 M984.1 848.8V873.3 M987.0 854.4V880.4 M989.9 855.4V885.0 M992.7 858.0V887.3 M995.6 859.6V890.6 M998.5 868.4V892.6 M1001.4 875.9V898.0 M1004.2 884.1V903.9 M1007.1 886.8V915.9 M1010.0 887.5V926.7 M1012.8 879.3V927.7 M1015.7 881.7V921.5 M1018.6 895.9V921.7 M1021.4 904.7V926.1 M1024.3 901.8V931.9 M1027.2 911.5V939.1 M1030.1 922.7V941.7 M1032.9 925.1V943.1 M1035.8 931.2V946.3 M1038.7 930.9V948.6 M1041.5 936.4V956.3 M1044.4 944.3V961.4 M1047.3 947.8V967.7 M1050.1 950.2V974.2 M1053.0 958.0V981.2 M1055.9 966.7V985.9 M1058.8 968.3V984.2 M1061.6 968.3V986.9 M1064.5 966.4V994.3 M1067.4 973.5V993.9 M1070.2 980.5V1000.3 M1073.1 981.7V1007.0 M1076.0 989.1V1018.2 M1078.8 994.8V1027.8 M1081.7 997.5V1025.7 M1084.6 994.0V1025.0 M1087.5 998.4V1031.5 M1090.3 1009.3V1026.5 M1093.2 1005.9V1024.0 M1096.1 1006.7V1025.7 M1098.9 1012.6V1042.0 M1101.8 1022.2V1055.2 M1104.7 1028.9V1052.7 M1107.5 1025.0V1042.0 M1110.4 1024.1V1043.0 M1113.3 1029.2V1049.8 M1116.2 1034.8V1048.9 M1119.0 1036.4V1055.8 M1121.9 1039.8V1068.1 M1124.8 1050.8V1074.0 M1127.6 1047.1V1069.6 M1130.5 1040.7V1077.3 M1133.4 1032.9V1066.4 M1136.2 1042.2V1062.6 M1139.1 1048.8V1064.8 M1142.0 1052.6V1070.9 M1144.9 1044.2V1075.3 M1147.7 1053.8V1075.1 M1150.6 1054.5V1074.5 M1153.5 1057.4V1078.5 M1156.3 1047.4V1080.0 M1159.2 1047.6V1079.4 M1162.1 1050.3V1080.3 M1164.9 1052.9V1087.5 M1167.8 1061.5V1093.1 M1170.7 1056.4V1101.4 M1173.6 1068.5V1109.0 M1176.4 1067.1V1101.6 M1179.3 1072.3V1092.5 M1182.2 1073.2V1093.5 M1185.0 1066.7V1091.9 M1187.9 1074.5V1095.4 M1190.8 1082.3V1096.2 M1193.6 1082.2V1100.2 M1196.5 1085.4V1104.9 M1199.4 1088.4V1100.7 M1202.3 1088.3V1109.5 M1205.1 1088.5V1118.4 M1208.0 1081.9V1108.1 M1210.9 1076.2V1102.9 M1213.7 1085.0V1110.4 M1216.6 1095.5V1111.2 M1219.5 1083.2V1110.4 M1222.3 1076.5V1120.4 M1225.2 1086.2V1127.1 M1228.1 1094.9V1120.7 M1231.0 1094.8V1109.4 M1233.8 1094.6V1118.2 M1236.7 1090.6V1115.4 M1239.6 1093.4V1109.5 M1242.4 1097.0V1112.4 M1245.3 1087.9V1117.9 M1248.2 1082.8V1124.2 M1251.0 1084.0V1124.7 M1253.9 1096.4V1118.6 M1256.8 1101.7V1112.5 M1259.7 1094.7V1111.6 M1262.5 1090.8V1109.5 M1265.4 1094.7V1113.9 M1268.3 1102.2V1115.4 M1271.1 1098.9V1119.9 M1274.0 1097.6V1126.9 M1276.9 1098.8V1130.7 M1279.7 1094.8V1127.1 M1282.6 1096.2V1118.8 M1285.5 1094.6V1124.6 M1288.4 1098.1V1133.8 M1291.2 1105.4V1134.7 M1294.1 1104.3V1131.5 M1297.0 1098.3V1123.0 M1299.8 1098.9V1116.2 M1302.7 1097.0V1117.2 M1305.6 1091.5V1128.7 M1308.4 1083.2V1124.0 M1311.3 1085.1V1111.2 M1314.2 1089.7V1113.7 M1317.1 1092.8V1123.8 M1319.9 1097.9V1125.6 M1322.8 1096.2V1120.8 M1325.7 1088.9V1111.3 M1328.5 1080.3V1103.7 M1331.4 1078.1V1104.2 M1334.3 1079.7V1103.0 M1337.1 1086.8V1109.5 M1340.0 1087.3V1117.9 M1342.9 1082.1V1111.5 M1345.8 1083.7V1112.7 M1348.6 1086.6V1107.3 M1351.5 1077.7V1100.0 M1354.4 1070.9V1097.5 M1357.2 1073.3V1100.0 M1360.1 1079.8V1105.2 M1363.0 1079.0V1107.5 M1365.8 1074.6V1101.3 M1368.7 1070.7V1108.0 M1371.6 1071.3V1098.8 M1374.5 1076.8V1091.7 M1377.3 1082.8V1090.0 M1380.2 1075.9V1096.5 M1383.1 1069.3V1102.1 M1385.9 1067.1V1093.1 M1388.8 1066.4V1081.7 M1391.7 1064.7V1082.1 M1394.5 1062.9V1082.6 M1397.4 1059.6V1078.9 M1400.3 1056.8V1079.4 M1403.2 1051.0V1078.9 M1406.0 1040.5V1075.7 M1408.9 1040.7V1071.4 M1411.8 1046.9V1084.6 M1414.6 1047.0V1072.6 M1417.5 1045.1V1064.3 M1420.4 1045.5V1059.6 M1423.2 1043.4V1058.5 M1426.1 1037.0V1061.5 M1429.0 1039.8V1063.9 M1431.9 1032.6V1062.4 M1434.7 1031.8V1053.4 M1437.6 1023.3V1049.5 M1440.5 1026.9V1045.5 M1443.3 1027.0V1040.7 M1446.2 1023.1V1036.7 M1449.1 1023.2V1040.4 M1451.9 1021.2V1037.7 M1454.8 1017.9V1041.1 M1457.7 1012.6V1045.8 M1460.6 1009.8V1045.2 M1463.4 999.2V1033.2 M1466.3 982.7V1018.0 M1469.2 968.8V1002.6 M1472.0 952.5V986.9 M1474.9 945.7V977.1 M1477.8 923.3V965.1 M1480.6 900.7V953.2 M1483.5 893.1V933.7 M1486.4 883.4V916.0 M1489.3 879.0V916.8 M1492.1 857.7V905.0 M1495.0 832.4V885.7 M1497.9 819.7V866.3 M1500.7 812.3V841.1 M1503.6 805.5V835.3 M1506.5 794.6V825.1 M1509.3 789.2V812.2 M1512.2 795.3V812.3 M1515.1 776.5V807.9 M1518.0 763.6V801.2 M1520.8 770.0V796.0 M1523.7 772.1V790.0 M1526.6 771.1V792.5 M1529.4 763.7V789.8 M1532.3 763.0V787.5 M1535.2 767.8V801.0 M1538.0 774.6V806.2 M1540.9 781.0V806.9 M1543.8 782.8V800.1 M1546.7 782.2V794.5 M1549.5 771.5V797.1 M1552.4 763.2V802.1 M1555.3 772.6V806.1 M1558.1 778.4V811.8 M1561.0 776.9V819.5 M1563.9 791.0V821.5 M1566.7 799.5V818.1 M1569.6 792.4V817.8 M1572.5 799.8V822.3 M1575.4 804.4V833.9 M1578.2 813.1V843.9 M1581.1 806.7V841.5 M1584.0 806.7V830.4 M1586.8 805.8V835.2 M1589.7 811.0V845.8 M1592.6 821.0V847.2 M1595.4 828.5V842.4 M1598.3 826.8V842.6 M1601.2 825.4V844.9 M1604.1 825.9V850.2 M1606.9 836.0V859.8 M1609.8 837.1V867.2 M1612.7 826.5V866.0 M1615.5 835.2V867.7 M1618.4 839.5V873.7 M1621.3 850.2V883.7 M1624.1 866.4V894.0 M1627.0 876.7V907.0 M1629.9 882.8V913.5 M1632.8 874.9V905.8 M1635.6 875.9V920.3 M1638.5 893.1V935.2 M1641.4 918.3V952.9 M1644.2 931.0V966.6 M1647.1 948.0V978.0 M1650.0 964.0V995.2 M1652.8 975.1V1010.9 M1655.7 992.3V1024.6 M1658.6 1007.6V1038.6 M1661.5 1021.2V1054.7 M1664.3 1036.6V1073.8 M1667.2 1052.7V1099.4 M1670.1 1071.8V1116.9 M1672.9 1093.6V1124.3 M1675.8 1109.1V1128.4 M1678.7 1115.5V1130.2 M1681.5 1119.7V1140.2 M1684.4 1126.9V1145.6 M1687.3 1136.9V1154.5 M1690.2 1143.6V1166.3 M1693.0 1151.2V1171.5 M1695.9 1159.5V1174.7 M1698.8 1162.4V1177.4 M1701.6 1167.3V1180.0 M1704.5 1170.1V1182.9 M1707.4 1167.6V1185.3 M1710.2 1172.9V1187.8 M1713.1 1178.1V1189.8 M1716.0 1174.0V1190.8 M1718.9 1171.8V1192.4 M1721.7 1179.2V1204.8 M1724.6 1190.4V1213.4 M1727.5 1192.9V1212.4 M1730.3 1193.8V1208.1 M1733.2 1195.0V1212.1 M1736.1 1197.5V1212.3 M1738.9 1198.2V1209.4 M1741.8 1198.8V1212.6 M1744.7 1196.6V1212.7 M1747.6 1201.4V1214.4 M1750.4 1203.7V1214.7 M1753.3 1203.9V1216.6 M1756.2 1204.9V1222.1 M1759.0 1203.5V1222.0 M1761.9 1204.0V1227.2 M1764.8 1204.2V1222.8 M1767.6 1203.9V1219.1 M1770.5 1205.1V1223.4 M1773.4 1202.1V1232.4 M1776.3 1208.7V1238.3 M1779.1 1215.6V1233.5 M1782.0 1217.9V1232.4 M1784.9 1217.3V1227.3 M1787.7 1217.9V1235.8 M1790.6 1219.7V1243.5 M1793.5 1216.8V1237.5 M1796.3 1216.4V1232.7 M1799.2 1221.7V1234.2 M1802.1 1216.1V1235.2 M1805.0 1210.2V1236.7 M1807.8 1217.9V1240.1 M1810.7 1225.0V1243.8 M1813.6 1225.0V1238.1 M1816.4 1225.9V1236.2 M1819.3 1229.4V1239.4 M1822.2 1230.0V1242.0 M1825.0 1223.2V1241.3 M1827.9 1221.3V1239.7 M1830.8 1226.0V1239.8 M1833.7 1231.0V1241.9 M1836.5 1230.2V1242.7 M1839.4 1229.2V1249.2 M1842.3 1229.3V1257.1 M1845.1 1235.0V1253.6 M1848.0 1234.0V1247.3 M1850.9 1233.8V1243.1 M1853.7 1233.8V1247.6 M1856.6 1237.1V1252.4 M1859.5 1234.0V1252.5 M1862.4 1231.8V1250.2 M1865.2 1231.5V1250.4 M1868.1 1235.6V1253.0 M1871.0 1237.1V1255.4 M1873.8 1235.7V1258.1 M1876.7 1235.3V1258.8 M1879.6 1234.3V1252.2 M1882.4 1232.7V1247.0 M1885.3 1235.6V1248.8 M1888.2 1237.4V1249.5 M1891.1 1235.6V1247.3 M1893.9 1235.2V1246.8 M1896.8 1236.7V1247.5 M1899.7 1233.1V1246.2 M1902.5 1232.9V1247.7 M1905.4 1229.9V1249.4 M1908.3 1231.0V1252.2 M1911.1 1234.5V1249.0 M1914.0 1237.3V1254.0 M1916.9 1234.8V1254.6 M1919.8 1233.7V1251.9 M1922.6 1236.3V1247.8 M1925.5 1234.8V1247.0 M1928.4 1236.8V1247.7 M1931.2 1239.1V1250.9 M1934.1 1241.0V1251.6 M1937.0 1238.8V1250.6 M1939.8 1239.2V1249.7 M1942.7 1241.2V1258.1 M1945.6 1243.2V1265.5 M1948.5 1242.7V1257.8 M1951.3 1233.3V1255.9 M1954.2 1226.3V1262.9 M1957.1 1233.6V1258.3 M1959.9 1239.7V1252.8 M1962.8 1238.8V1250.6 M1965.7 1239.0V1251.2 M1968.5 1243.4V1253.1 M1971.4 1244.8V1255.2 M1974.3 1244.4V1256.9 M1977.2 1245.8V1256.0 M1980.0 1243.9V1253.4 M1982.9 1239.7V1251.7 M1985.8 1238.4V1255.9 M1988.6 1244.2V1259.8 M1991.5 1237.3V1256.1 M1994.4 1230.6V1255.2 M1997.2 1240.1V1258.1 M2000.1 1230.1V1254.8 M2003.0 1227.5V1252.3 M2005.9 1231.3V1251.9 M2008.7 1236.1V1258.9 M2011.6 1241.3V1257.9 M2014.5 1241.8V1255.7 M2017.3 1239.1V1253.5 M2020.2 1240.0V1251.1 M2023.1 1240.9V1251.4 M2025.9 1241.1V1253.5 M2028.8 1236.3V1253.2 M2031.7 1237.1V1251.4 M2034.6 1242.2V1253.3 M2037.4 1235.6V1253.1 M2040.3 1228.5V1252.2 M2043.2 1226.7V1257.2 M2046.0 1234.9V1266.4 M2048.9 1240.6V1260.8 M2051.8 1241.1V1254.1 M2054.6 1244.6V1254.4 M2057.5 1244.0V1252.2 M2060.4 1244.6V1254.2 M2063.3 1243.4V1256.3 M2066.1 1242.4V1252.8 M2069.0 1243.8V1250.5 M2070.6 1246.6V1251.1"/>
<polygon points="347.2,582.0 374.7,630.0 319.7,630.0" fill="#fdae22"/>
<polygon points="904.0,639.0 931.5,687.0 876.5,687.0" fill="#fdae22"/>
<polygon points="1461.5,981.0 1489.0,1030.0 1434.0,1030.0" fill="#fdae22"/>
<polygon points="2018.0,1214.6 2045.5,1262.5 1990.5,1262.5" fill="#fdae22"/>
<path fill="none" stroke="#0db060" stroke-width="2.87" d="M347.7 1363.1V1365.3 M349.9 1362.7V1365.7 M352.7 1362.6V1365.2 M355.6 1362.7V1365.2 M358.5 1363.2V1365.4 M361.3 1363.2V1365.6 M364.2 1363.1V1365.9 M367.1 1363.3V1366.0 M370.0 1363.7V1365.8 M372.8 1363.8V1366.5 M375.7 1363.5V1366.6 M378.6 1363.8V1366.4 M381.4 1363.8V1366.4 M384.3 1364.2V1366.8 M387.2 1364.9V1367.1 M390.0 1365.1V1367.1 M392.9 1365.2V1367.3 M395.8 1365.4V1367.3 M398.7 1365.6V1367.5 M401.5 1365.8V1367.8 M404.4 1366.0V1367.8 M407.3 1366.1V1367.9 M410.1 1366.0V1368.2 M413.0 1366.1V1368.5 M415.9 1366.6V1368.8 M418.7 1367.2V1369.1 M421.6 1367.3V1369.2 M424.5 1367.3V1369.6 M427.4 1367.3V1369.7 M430.2 1367.6V1369.8 M433.1 1367.9V1369.8 M436.0 1367.7V1369.8 M438.8 1367.6V1370.3 M441.7 1368.2V1370.7 M444.6 1368.4V1370.6 M447.4 1368.4V1370.4 M450.3 1368.6V1370.7 M453.2 1368.8V1371.1 M456.1 1369.3V1371.3 M458.9 1369.9V1371.4 M461.8 1370.0V1371.5 M464.7 1370.1V1371.9 M467.5 1370.3V1372.1 M470.4 1370.3V1372.1 M473.3 1370.5V1372.3 M476.1 1370.8V1372.5 M479.0 1370.9V1372.5 M481.9 1370.9V1373.0 M484.8 1370.9V1373.5 M487.6 1371.1V1373.4 M490.5 1371.5V1373.3 M493.4 1371.8V1373.4 M496.2 1371.8V1373.6 M499.1 1371.8V1373.7 M502.0 1371.5V1373.7 M504.8 1371.6V1373.9 M507.7 1371.9V1374.2 M510.6 1372.4V1374.4 M513.5 1372.6V1374.2 M516.3 1372.6V1374.5 M519.2 1372.6V1374.7 M522.1 1372.6V1374.6 M524.9 1372.9V1374.7 M527.8 1373.2V1374.8 M530.7 1373.2V1374.9 M533.5 1373.2V1375.3 M536.4 1372.8V1375.5 M539.3 1372.8V1375.5 M542.2 1373.3V1375.5 M545.0 1373.9V1376.0 M547.9 1374.1V1376.4 M550.8 1374.1V1376.4 M553.6 1374.2V1376.1 M556.5 1374.2V1376.3 M559.4 1374.0V1376.3 M562.2 1374.3V1376.3 M565.1 1374.2V1376.2 M568.0 1374.5V1376.5 M570.9 1374.6V1376.7 M573.7 1375.0V1376.8 M576.6 1374.8V1377.2 M579.5 1374.8V1377.6 M582.3 1374.5V1377.3 M585.2 1374.9V1377.2 M588.1 1375.3V1377.5 M590.9 1375.4V1377.9 M593.8 1375.4V1378.2 M596.7 1375.7V1377.8 M599.6 1376.1V1377.9 M602.4 1376.0V1377.9 M605.3 1375.9V1377.7 M608.2 1376.1V1377.7 M611.0 1376.3V1378.2 M613.9 1376.2V1378.5 M616.8 1376.3V1378.6 M619.6 1376.1V1378.7 M622.5 1375.8V1378.5 M625.4 1376.3V1378.8 M628.3 1377.0V1378.9 M631.1 1377.0V1379.0 M634.0 1377.1V1379.3 M636.9 1377.1V1379.5 M639.7 1377.0V1379.5 M642.6 1377.2V1379.7 M645.5 1377.4V1379.6 M648.3 1377.5V1379.4 M651.2 1377.5V1379.8 M654.1 1377.4V1379.9 M657.0 1377.1V1379.4 M659.8 1377.4V1379.6 M662.7 1377.3V1380.0 M665.6 1377.4V1380.1 M668.4 1377.6V1379.9 M671.3 1377.7V1380.3 M674.2 1377.8V1380.0 M677.0 1377.7V1379.5 M679.9 1377.8V1379.9 M682.8 1378.1V1380.1 M685.7 1377.8V1380.0 M688.5 1377.4V1380.2 M691.4 1377.6V1380.6 M694.3 1377.8V1380.3 M697.1 1378.1V1380.0 M700.0 1378.2V1380.0 M702.9 1377.8V1380.0 M705.7 1377.7V1380.1 M708.6 1377.8V1380.1 M711.5 1378.1V1380.5 M714.4 1378.4V1380.7 M717.2 1378.5V1380.9 M720.1 1378.6V1380.5 M723.0 1378.7V1380.3 M725.8 1378.7V1380.3 M728.7 1378.6V1380.4 M731.6 1378.4V1380.5 M734.4 1378.6V1380.9 M737.3 1378.7V1380.8 M740.2 1378.9V1381.0 M743.1 1379.1V1380.8 M745.9 1379.0V1380.7 M748.8 1378.9V1380.7 M751.7 1378.9V1380.7 M754.5 1378.9V1380.6 M757.4 1378.8V1380.6 M760.3 1379.0V1380.6 M763.1 1379.0V1380.7 M766.0 1379.0V1380.9 M768.9 1378.7V1381.1 M771.8 1378.3V1380.9 M774.6 1378.6V1380.6 M777.5 1378.8V1380.7 M780.4 1378.6V1380.8 M783.2 1378.5V1380.7 M786.1 1378.8V1380.6 M789.0 1378.5V1380.6 M791.8 1378.7V1380.6 M794.7 1378.6V1380.9 M797.6 1378.4V1381.0 M800.5 1378.4V1380.8 M803.3 1378.9V1380.7 M806.2 1378.8V1381.0 M809.1 1378.9V1381.5 M811.9 1379.0V1381.2 M814.8 1379.1V1380.8 M817.7 1379.3V1380.9 M820.5 1378.8V1381.1 M823.4 1378.5V1381.2 M826.3 1378.9V1381.0 M829.2 1379.0V1381.0 M832.0 1378.6V1380.8 M834.9 1378.7V1380.7 M837.8 1378.9V1380.9 M840.6 1378.7V1381.0 M843.5 1378.4V1381.1 M846.4 1378.8V1381.1 M849.2 1378.5V1380.9 M852.1 1378.8V1380.7 M855.0 1379.1V1380.6 M857.9 1378.8V1380.7 M860.7 1378.7V1380.8 M863.6 1378.7V1380.8 M866.5 1378.9V1380.7 M869.3 1379.0V1380.8 M872.2 1378.9V1381.1 M875.1 1378.8V1381.1 M877.9 1378.9V1381.2 M880.8 1379.2V1381.2 M883.7 1379.3V1380.9 M886.6 1379.3V1380.7 M889.4 1379.3V1380.9 M892.3 1379.2V1381.2 M895.2 1378.7V1381.6 M898.0 1378.4V1381.6 M900.9 1378.4V1381.4 M903.8 1378.9V1381.2 M906.6 1379.1V1381.0 M909.5 1379.1V1380.7 M912.4 1379.1V1380.7 M915.3 1379.1V1380.8 M918.1 1379.1V1381.1 M921.0 1379.0V1381.1 M923.9 1379.0V1380.8 M926.7 1379.1V1380.8 M929.6 1379.0V1381.0 M932.5 1378.7V1380.9 M935.3 1378.4V1380.6 M938.2 1378.6V1380.9 M941.1 1379.1V1381.2 M944.0 1378.6V1381.0 M946.8 1378.4V1380.6 M949.7 1378.4V1380.4 M952.6 1378.3V1380.7 M955.4 1378.1V1380.3 M958.3 1377.9V1379.9 M961.2 1378.2V1379.9 M964.0 1377.9V1379.8 M966.9 1377.5V1379.8 M969.8 1377.8V1379.6 M972.7 1377.6V1379.8 M975.5 1377.7V1379.8 M978.4 1377.7V1379.9 M981.3 1377.8V1379.7 M984.1 1377.8V1379.4 M987.0 1377.5V1379.5 M989.9 1377.4V1379.8 M992.7 1377.4V1380.0 M995.6 1377.5V1380.1 M998.5 1377.5V1379.7 M1001.4 1377.4V1379.3 M1004.2 1377.4V1379.5 M1007.1 1377.6V1379.9 M1010.0 1377.3V1379.8 M1012.8 1377.1V1379.5 M1015.7 1377.0V1379.5 M1018.6 1377.2V1379.7 M1021.4 1377.2V1379.6 M1024.3 1376.7V1379.5 M1027.2 1376.7V1378.9 M1030.1 1376.9V1378.6 M1032.9 1377.0V1378.7 M1035.8 1377.0V1379.0 M1038.7 1377.0V1379.0 M1041.5 1376.8V1378.8 M1044.4 1376.6V1378.6 M1047.3 1376.5V1378.5 M1050.1 1376.5V1378.4 M1053.0 1376.5V1378.3 M1055.9 1376.0V1378.6 M1058.8 1375.8V1378.9 M1061.6 1376.2V1378.7 M1064.5 1376.4V1378.9 M1067.4 1376.3V1378.6 M1070.2 1375.8V1378.6 M1073.1 1375.4V1378.2 M1076.0 1375.7V1378.5 M1078.8 1376.0V1378.5 M1081.7 1375.8V1377.9 M1084.6 1375.6V1377.6 M1087.5 1375.3V1377.5 M1090.3 1375.3V1377.4 M1093.2 1375.5V1377.4 M1096.1 1375.6V1377.4 M1098.9 1375.5V1377.6 M1101.8 1375.7V1377.9 M1104.7 1375.4V1377.6 M1107.5 1375.4V1377.3 M1110.4 1375.3V1377.1 M1113.3 1374.9V1377.1 M1116.2 1374.9V1376.8 M1119.0 1375.0V1376.5 M1121.9 1374.9V1376.5 M1124.8 1374.7V1376.5 M1127.6 1374.8V1376.6 M1130.5 1374.9V1376.7 M1133.4 1374.7V1376.8 M1136.2 1374.5V1376.5 M1139.1 1374.6V1376.1 M1142.0 1374.3V1376.2 M1144.9 1373.9V1376.4 M1147.7 1373.9V1376.3 M1150.6 1373.9V1376.0 M1153.5 1373.6V1375.7 M1156.3 1373.6V1375.7 M1159.2 1374.0V1375.7 M1162.1 1373.8V1375.7 M1164.9 1373.6V1375.7 M1167.8 1373.6V1375.5 M1170.7 1373.4V1375.3 M1173.6 1373.1V1375.4 M1176.4 1372.5V1375.4 M1179.3 1372.6V1375.0 M1182.2 1373.0V1374.6 M1185.0 1372.9V1374.8 M1187.9 1372.7V1374.8 M1190.8 1372.6V1374.6 M1193.6 1372.3V1374.3 M1196.5 1372.2V1374.0 M1199.4 1372.2V1374.2 M1202.3 1372.0V1374.4 M1205.1 1371.3V1374.4 M1208.0 1371.0V1373.8 M1210.9 1371.0V1373.1 M1213.7 1371.1V1372.9 M1216.6 1370.8V1372.7 M1219.5 1370.5V1372.3 M1222.3 1370.0V1372.2 M1225.2 1369.6V1372.2 M1228.1 1369.4V1371.7 M1231.0 1369.2V1371.2 M1233.8 1369.1V1371.0 M1236.7 1368.7V1370.8 M1239.6 1368.4V1370.6 M1242.4 1368.0V1370.5 M1245.3 1367.5V1370.4 M1248.2 1367.4V1369.9 M1251.0 1367.2V1369.2 M1253.9 1366.9V1368.7 M1256.8 1366.2V1368.5 M1259.7 1365.8V1368.5 M1262.5 1365.7V1368.6 M1265.4 1365.7V1368.1 M1268.3 1365.5V1367.8 M1271.1 1365.1V1367.3 M1274.0 1364.7V1366.8 M1276.9 1364.5V1366.7 M1279.7 1364.2V1366.2 M1282.6 1363.5V1365.8 M1285.5 1363.0V1365.6 M1288.4 1362.8V1365.0 M1291.2 1362.4V1364.3 M1294.1 1361.6V1364.1 M1297.0 1360.8V1363.6 M1299.8 1360.1V1362.9 M1302.7 1359.0V1362.1 M1305.6 1358.0V1361.3 M1308.4 1357.5V1360.4 M1311.3 1356.7V1359.4 M1314.2 1356.2V1358.8 M1317.1 1355.3V1358.5 M1319.9 1354.2V1357.8 M1322.8 1353.7V1356.6 M1325.7 1353.3V1355.6 M1328.5 1352.7V1355.2 M1331.4 1351.6V1354.6 M1334.3 1350.8V1353.9 M1337.1 1350.7V1353.1 M1340.0 1350.1V1352.4 M1342.9 1349.4V1351.9 M1345.8 1348.6V1351.3 M1348.6 1347.8V1350.6 M1351.5 1347.3V1349.9 M1354.4 1346.5V1349.2 M1357.2 1345.6V1348.5 M1360.1 1344.7V1347.8 M1363.0 1343.8V1346.8 M1365.8 1342.6V1345.9 M1368.7 1341.3V1345.0 M1371.6 1340.0V1343.8 M1374.5 1338.4V1342.5 M1377.3 1336.7V1341.2 M1380.2 1335.2V1339.6 M1383.1 1332.9V1337.9 M1385.9 1329.9V1336.4 M1388.8 1327.4V1334.1 M1391.7 1325.2V1331.1 M1394.5 1322.6V1328.6 M1397.4 1319.2V1326.4 M1400.3 1315.5V1323.8 M1403.2 1311.6V1320.4 M1406.0 1306.9V1316.7 M1408.9 1302.1V1312.8 M1411.8 1298.1V1308.1 M1414.6 1293.8V1303.3 M1417.5 1287.9V1299.3 M1420.4 1280.1V1295.0 M1423.2 1270.5V1289.1 M1426.1 1260.4V1281.3 M1429.0 1250.4V1271.7 M1431.9 1237.3V1261.6 M1434.7 1221.6V1251.6 M1437.6 1205.7V1238.5 M1440.5 1185.7V1222.8 M1443.3 1161.2V1206.9 M1446.2 1136.4V1186.9 M1449.1 1105.7V1162.4 M1451.9 1065.2V1137.6 M1454.8 1020.1V1106.9 M1457.7 968.2V1066.4 M1460.6 918.9V1021.3 M1463.4 875.8V969.4 M1466.3 832.0V920.1 M1469.2 789.0V877.0 M1472.0 730.4V833.2 M1474.9 670.9V790.2 M1477.8 631.8V731.6 M1480.6 599.7V672.1 M1483.5 570.7V633.0 M1486.4 545.8V600.9 M1489.3 523.0V571.9 M1492.1 502.1V547.0 M1495.0 483.4V524.2 M1497.9 470.2V503.3 M1500.7 461.2V484.6 M1503.6 449.0V471.4 M1506.5 436.0V462.4 M1509.3 426.4V450.2 M1512.2 419.4V437.2 M1515.1 414.9V427.6 M1518.0 412.0V420.6 M1520.8 409.7V416.1 M1523.7 408.3V413.2 M1526.6 407.6V410.9 M1529.4 407.2V409.8 M1532.3 407.3V410.7 M1535.2 407.9V413.3 M1538.0 409.5V416.2 M1540.9 412.1V418.3 M1543.8 415.0V418.9 M1546.7 415.0V419.0 M1549.5 412.1V418.3 M1552.4 409.3V416.2 M1555.3 406.1V413.3 M1558.1 403.1V410.5 M1561.0 399.7V407.3 M1563.9 396.1V404.3 M1566.7 392.8V400.9 M1569.6 388.7V397.3 M1572.5 385.2V394.0 M1575.4 383.8V389.9 M1578.2 383.2V386.4 M1581.1 382.9V385.8 M1584.0 383.2V388.9 M1586.8 384.5V393.9 M1589.7 387.7V399.2 M1592.6 392.7V405.5 M1595.4 398.0V412.8 M1598.3 404.3V421.5 M1601.2 411.6V433.3 M1604.1 420.3V447.5 M1606.9 432.1V463.0 M1609.8 446.3V479.9 M1612.7 461.8V499.3 M1615.5 478.7V522.4 M1618.4 498.1V551.2 M1621.3 521.2V585.8 M1624.1 550.0V622.0 M1627.0 584.6V656.4 M1629.9 620.8V692.4 M1632.8 655.2V758.4 M1635.6 691.2V825.4 M1638.5 757.2V867.0 M1641.4 824.2V911.5 M1644.2 865.8V949.7 M1647.1 910.3V978.0 M1650.0 948.5V1009.8 M1652.8 976.8V1046.7 M1655.7 1008.6V1077.6 M1658.6 1045.5V1104.0 M1661.5 1076.4V1132.9 M1664.3 1102.8V1156.9 M1667.2 1131.7V1172.8 M1670.1 1155.7V1185.7 M1672.9 1171.6V1196.8 M1675.8 1184.5V1206.8 M1678.7 1195.6V1216.8 M1681.5 1205.6V1226.6 M1684.4 1215.6V1235.6 M1687.3 1225.4V1243.6 M1690.2 1234.4V1250.7 M1693.0 1242.4V1257.2 M1695.9 1249.5V1263.8 M1698.8 1256.0V1269.7 M1701.6 1262.6V1276.0 M1704.5 1268.5V1282.3 M1707.4 1274.8V1287.6 M1710.2 1281.1V1293.4 M1713.1 1286.4V1298.8 M1716.0 1292.2V1303.5 M1718.9 1297.6V1307.9 M1721.7 1302.3V1311.9 M1724.6 1306.7V1315.9 M1727.5 1310.7V1319.6 M1730.3 1314.7V1322.7 M1733.2 1318.4V1326.0 M1736.1 1321.5V1328.9 M1738.9 1324.8V1331.1 M1741.8 1327.7V1333.6 M1744.7 1329.9V1336.2 M1747.6 1332.4V1338.1 M1750.4 1335.0V1339.9 M1753.3 1336.9V1341.8 M1756.2 1338.7V1343.7 M1759.0 1340.6V1345.8 M1761.9 1342.5V1347.6 M1764.8 1344.6V1349.2 M1767.6 1346.4V1350.8 M1770.5 1348.0V1352.0 M1773.4 1349.6V1353.5 M1776.3 1350.7V1354.5 M1779.1 1351.8V1355.6 M1782.0 1353.0V1356.9 M1784.9 1354.1V1357.6 M1787.7 1355.1V1358.1 M1790.6 1355.5V1358.9 M1793.5 1356.3V1360.1 M1796.3 1357.7V1360.9 M1799.2 1358.5V1361.6 M1802.1 1359.2V1362.4 M1805.0 1359.8V1363.1 M1807.8 1360.7V1363.7 M1810.7 1361.3V1364.1 M1813.6 1361.3V1364.7 M1816.4 1361.9V1365.2 M1819.3 1362.6V1366.0 M1822.2 1363.7V1366.4 M1825.0 1364.7V1367.0 M1827.9 1365.1V1367.8 M1830.8 1365.6V1368.1 M1833.7 1366.1V1368.5 M1836.5 1366.3V1369.0 M1839.4 1366.8V1369.5 M1842.3 1367.6V1370.1 M1845.1 1368.1V1370.4 M1848.0 1368.7V1371.0 M1850.9 1369.2V1371.6 M1853.7 1369.5V1371.9 M1856.6 1369.7V1372.2 M1859.5 1370.1V1372.8 M1862.4 1370.5V1372.9 M1865.2 1370.8V1372.7 M1868.1 1371.1V1372.8 M1871.0 1371.3V1373.0 M1873.8 1371.5V1373.2 M1876.7 1371.7V1373.3 M1879.6 1371.9V1373.6 M1882.4 1372.0V1374.0 M1885.3 1372.2V1374.2 M1888.2 1372.2V1374.2 M1891.1 1372.3V1374.3 M1893.9 1372.6V1374.5 M1896.8 1372.6V1374.7 M1899.7 1372.8V1374.8 M1902.5 1373.2V1374.9 M1905.4 1373.5V1375.3 M1908.3 1373.6V1375.5 M1911.1 1373.8V1375.5 M1914.0 1374.0V1375.5 M1916.9 1373.7V1375.6 M1919.8 1373.5V1375.8 M1922.6 1373.9V1376.0 M1925.5 1374.4V1376.0 M1928.4 1374.4V1376.3 M1931.2 1374.5V1377.0 M1934.1 1374.7V1377.4 M1937.0 1374.9V1377.3 M1939.8 1375.2V1376.8 M1942.7 1375.0V1377.3 M1945.6 1375.3V1377.8 M1948.5 1375.5V1377.5 M1951.3 1375.5V1377.3 M1954.2 1375.5V1377.3 M1957.1 1375.0V1377.4 M1959.9 1374.8V1377.5 M1962.8 1375.3V1377.7 M1965.7 1375.4V1378.0 M1968.5 1375.7V1378.1 M1971.4 1375.7V1378.1 M1974.3 1375.6V1377.9 M1977.2 1375.8V1378.3 M1980.0 1376.1V1378.0 M1982.9 1376.3V1378.2 M1985.8 1376.4V1378.6 M1988.6 1376.1V1378.6 M1991.5 1375.8V1378.2 M1994.4 1375.9V1378.4 M1997.2 1376.5V1378.6 M2000.1 1376.7V1378.5 M2003.0 1376.5V1378.6 M2005.9 1376.4V1378.6 M2008.7 1376.3V1378.9 M2011.6 1376.5V1379.0 M2014.5 1376.9V1379.2 M2017.3 1377.1V1379.0 M2020.2 1377.2V1378.8 M2023.1 1377.4V1378.8 M2025.9 1377.3V1378.8 M2028.8 1377.0V1379.0 M2031.7 1376.8V1379.2 M2034.6 1377.0V1379.2 M2037.4 1377.0V1379.1 M2040.3 1377.0V1378.8 M2043.2 1377.2V1378.8 M2046.0 1377.3V1378.9 M2048.9 1377.3V1379.1 M2051.8 1377.2V1379.1 M2054.6 1377.0V1379.1 M2057.5 1377.0V1378.9 M2060.4 1376.8V1378.8 M2063.3 1377.0V1379.1 M2066.1 1377.2V1379.2 M2069.0 1377.0V1379.1 M2070.6 1377.0V1378.7"/>
<polygon points="319.7,1348.8 374.7,1348.8 347.2,1393.3" fill="#00b064"/>
<polygon points="876.5,1365.5 931.5,1365.5 904.0,1411.0" fill="#00b064"/>
<polygon points="1433.5,959.0 1488.5,959.0 1461.0,1006.5" fill="#00b064"/>
<polygon points="1990.5,1362.4 2045.5,1362.4 2018.0,1411.4" fill="#00b064"/>
<path fill="none" stroke="#67658f" stroke-width="2.87" d="M347.7 950.6V970.3 M349.9 952.4V984.9 M352.7 962.7V986.8 M355.6 971.4V987.6 M358.5 973.6V991.4 M361.3 971.6V994.3 M364.2 966.9V992.6 M367.1 976.0V996.8 M370.0 986.2V1003.4 M372.8 988.6V1009.6 M375.7 983.7V1014.6 M378.6 985.7V1009.8 M381.4 989.2V1009.1 M384.3 997.4V1009.2 M387.2 1003.6V1012.4 M390.0 1003.7V1017.6 M392.9 999.3V1019.6 M395.8 992.5V1018.4 M398.7 996.9V1018.3 M401.5 995.7V1021.6 M404.4 1004.4V1025.0 M407.3 1014.0V1033.0 M410.1 1015.9V1043.3 M413.0 1021.0V1045.5 M415.9 1024.1V1040.0 M418.7 1021.9V1040.9 M421.6 1023.1V1044.0 M424.5 1025.6V1038.1 M427.4 1025.1V1033.0 M430.2 1023.5V1033.9 M433.1 1022.7V1039.0 M436.0 1020.6V1043.0 M438.8 1018.0V1039.0 M441.7 1019.9V1034.4 M444.6 1015.6V1034.9 M447.4 1016.1V1038.9 M450.3 1018.0V1046.3 M453.2 1008.9V1045.5 M456.1 1005.7V1035.8 M458.9 1011.7V1029.6 M461.8 1017.4V1025.6 M464.7 1018.2V1027.5 M467.5 1015.7V1030.8 M470.4 1011.0V1029.6 M473.3 1011.6V1029.0 M476.1 1010.1V1028.7 M479.0 1008.0V1021.8 M481.9 1000.5V1019.7 M484.8 993.8V1020.3 M487.6 993.2V1015.5 M490.5 992.2V1008.1 M493.4 995.6V1006.6 M496.2 999.6V1006.0 M499.1 1000.0V1006.5 M502.0 996.9V1007.5 M504.8 992.4V1004.4 M507.7 990.3V1005.3 M510.6 990.3V1009.3 M513.5 984.2V1013.4 M516.3 980.5V1013.6 M519.2 976.9V1005.1 M522.1 973.5V996.2 M524.9 970.0V1002.4 M527.8 969.3V990.7 M530.7 965.2V978.1 M533.5 960.4V978.1 M536.4 955.3V972.8 M539.3 950.9V973.1 M542.2 949.8V980.6 M545.0 943.7V973.2 M547.9 938.2V958.5 M550.8 939.2V950.4 M553.6 933.0V949.1 M556.5 924.4V948.9 M559.4 920.1V947.1 M562.2 917.8V936.2 M565.1 912.0V926.0 M568.0 904.7V922.2 M570.9 895.6V925.7 M573.7 882.5V914.9 M576.6 875.4V902.0 M579.5 871.3V890.9 M582.3 863.8V883.4 M585.2 859.8V881.5 M588.1 854.9V880.3 M590.9 844.8V873.5 M593.8 836.2V860.0 M596.7 830.2V847.3 M599.6 826.1V844.0 M602.4 815.2V842.1 M605.3 803.4V835.7 M608.2 792.1V824.7 M611.0 782.6V812.4 M613.9 782.3V806.2 M616.8 783.9V802.6 M619.6 779.4V800.9 M622.5 776.3V797.4 M625.4 765.5V796.2 M628.3 752.9V787.1 M631.1 743.6V772.7 M634.0 731.1V760.1 M636.9 722.1V747.0 M639.7 717.3V734.6 M642.6 706.7V724.5 M645.5 694.3V721.6 M648.3 687.1V710.2 M651.2 672.8V696.3 M654.1 663.1V693.5 M657.0 652.3V687.8 M659.8 639.1V677.6 M662.7 633.4V670.1 M665.6 624.4V653.4 M668.4 616.5V635.4 M671.3 601.8V629.8 M674.2 589.7V621.9 M677.0 594.2V614.5 M679.9 586.9V606.9 M682.8 582.2V599.3 M685.7 575.3V591.7 M688.5 564.0V585.4 M691.4 556.8V582.6 M694.3 554.8V577.9 M697.1 553.9V572.7 M700.0 547.4V575.9 M702.9 535.2V580.1 M705.7 524.3V562.3 M708.6 517.4V542.1 M711.5 514.2V557.1 M714.4 515.6V570.7 M717.2 526.1V561.0 M720.1 513.4V548.8 M723.0 497.5V538.8 M725.8 502.1V527.0 M728.7 509.6V525.7 M731.6 506.8V532.8 M734.4 510.1V536.5 M737.3 511.3V533.2 M740.2 496.3V530.1 M743.1 484.7V522.5 M745.9 479.9V516.6 M748.8 484.0V520.9 M751.7 493.3V519.0 M754.5 502.2V514.9 M757.4 504.6V522.2 M760.3 504.2V528.5 M763.1 501.6V527.4 M766.0 490.8V524.0 M768.9 478.1V525.1 M771.8 480.3V534.6 M774.6 506.4V537.0 M777.5 521.2V541.4 M780.4 526.7V547.6 M783.2 537.5V550.5 M786.1 531.7V553.7 M789.0 534.3V566.8 M791.8 538.4V578.0 M794.7 544.5V577.3 M797.6 531.0V577.7 M800.5 540.5V593.3 M803.3 550.9V580.6 M806.2 550.1V581.6 M809.1 550.7V585.5 M811.9 564.8V585.4 M814.8 573.1V586.6 M817.7 574.6V590.6 M820.5 578.3V600.4 M823.4 580.5V610.0 M826.3 583.8V611.0 M829.2 586.7V616.1 M832.0 586.1V616.3 M834.9 595.0V628.4 M837.8 604.6V637.9 M840.6 605.7V633.4 M843.5 610.8V640.2 M846.4 618.8V645.6 M849.2 625.8V657.5 M852.1 634.7V666.6 M855.0 646.5V667.0 M857.9 652.9V669.4 M860.7 654.0V673.0 M863.6 659.2V674.2 M866.5 654.4V676.5 M869.3 655.6V687.6 M872.2 665.9V696.8 M875.1 674.3V705.6 M877.9 684.6V714.6 M880.8 701.3V728.3 M883.7 709.9V741.6 M886.6 717.1V736.0 M889.4 718.0V744.9 M892.3 728.6V749.8 M895.2 735.2V752.7 M898.0 735.2V757.9 M900.9 738.9V767.6 M903.8 750.5V781.4 M906.6 764.1V790.1 M909.5 765.3V799.9 M912.4 770.2V809.5 M915.3 783.2V810.3 M918.1 780.2V809.1 M921.0 782.8V809.8 M923.9 790.4V814.2 M926.7 793.3V822.0 M929.6 804.5V831.1 M932.5 817.5V838.7 M935.3 824.6V846.8 M938.2 824.6V856.6 M941.1 827.0V863.0 M944.0 841.0V864.7 M946.8 851.7V863.7 M949.7 848.3V870.4 M952.6 845.2V879.5 M955.4 857.0V894.5 M958.3 877.5V904.5 M961.2 884.2V908.4 M964.0 885.1V905.9 M966.9 888.7V910.2 M969.8 891.8V918.4 M972.7 897.6V920.2 M975.5 892.1V929.7 M978.4 908.1V934.0 M981.3 922.1V946.1 M984.1 926.4V956.8 M987.0 930.9V948.7 M989.9 929.3V953.0 M992.7 935.7V967.1 M995.6 937.3V976.6 M998.5 950.0V975.0 M1001.4 963.3V976.4 M1004.2 966.9V993.0 M1007.1 973.9V1006.1 M1010.0 977.9V1002.9 M1012.8 979.7V994.6 M1015.7 983.5V1003.8 M1018.6 987.8V1012.2 M1021.4 994.8V1022.2 M1024.3 1004.1V1027.6 M1027.2 1010.4V1028.8 M1030.1 1015.3V1030.4 M1032.9 1017.1V1037.6 M1035.8 1020.7V1042.3 M1038.7 1021.4V1040.4 M1041.5 1024.5V1038.5 M1044.4 1029.7V1055.3 M1047.3 1035.1V1067.9 M1050.1 1039.2V1066.6 M1053.0 1046.9V1070.0 M1055.9 1051.3V1069.6 M1058.8 1039.8V1070.5 M1061.6 1050.8V1077.9 M1064.5 1065.4V1084.8 M1067.4 1073.5V1088.0 M1070.2 1069.3V1093.6 M1073.1 1062.8V1097.2 M1076.0 1069.0V1100.8 M1078.8 1081.7V1108.2 M1081.7 1083.3V1113.6 M1084.6 1077.0V1113.3 M1087.5 1092.0V1120.9 M1090.3 1107.4V1124.2 M1093.2 1103.4V1123.0 M1096.1 1107.0V1130.5 M1098.9 1118.2V1137.7 M1101.8 1122.5V1144.2 M1104.7 1117.8V1153.6 M1107.5 1128.5V1161.1 M1110.4 1123.0V1156.4 M1113.3 1123.8V1168.8 M1116.2 1135.5V1163.3 M1119.0 1148.0V1161.3 M1121.9 1149.3V1173.6 M1124.8 1152.8V1181.4 M1127.6 1150.6V1181.6 M1130.5 1151.0V1177.2 M1133.4 1160.9V1178.4 M1136.2 1171.0V1187.5 M1139.1 1168.7V1192.9 M1142.0 1165.3V1195.3 M1144.9 1176.9V1198.8 M1147.7 1187.1V1201.6 M1150.6 1186.2V1212.8 M1153.5 1188.9V1216.2 M1156.3 1194.0V1212.3 M1159.2 1194.1V1214.5 M1162.1 1192.6V1211.1 M1164.9 1197.8V1215.5 M1167.8 1199.9V1222.6 M1170.7 1204.6V1222.7 M1173.6 1207.0V1221.5 M1176.4 1211.1V1226.1 M1179.3 1210.5V1227.0 M1182.2 1210.4V1227.4 M1185.0 1213.2V1230.5 M1187.9 1215.8V1233.5 M1190.8 1219.7V1232.7 M1193.6 1224.6V1240.1 M1196.5 1228.6V1246.7 M1199.4 1230.3V1241.2 M1202.3 1231.6V1238.0 M1205.1 1233.4V1240.6 M1208.0 1234.0V1246.5 M1210.9 1233.9V1254.8 M1213.7 1240.4V1259.2 M1216.6 1242.1V1254.9 M1219.5 1242.6V1254.6 M1222.3 1237.9V1257.4 M1225.2 1245.0V1259.1 M1228.1 1250.5V1260.2 M1231.0 1250.5V1263.7 M1233.8 1252.5V1264.1 M1236.7 1248.7V1261.7 M1239.6 1246.9V1257.3 M1242.4 1248.6V1263.6 M1245.3 1253.3V1268.2 M1248.2 1259.6V1269.9 M1251.0 1262.2V1273.2 M1253.9 1260.7V1276.2 M1256.8 1262.0V1274.9 M1259.7 1267.0V1275.4 M1262.5 1268.4V1276.9 M1265.4 1267.1V1281.4 M1268.3 1270.7V1286.6 M1271.1 1270.5V1288.6 M1274.0 1274.3V1287.9 M1276.9 1276.9V1286.5 M1279.7 1278.0V1286.1 M1282.6 1279.4V1290.1 M1285.5 1280.9V1294.3 M1288.4 1281.7V1290.8 M1291.2 1282.0V1288.5 M1294.1 1282.3V1292.1 M1297.0 1284.7V1295.3 M1299.8 1285.7V1294.1 M1302.7 1287.6V1294.3 M1305.6 1286.6V1295.1 M1308.4 1282.2V1295.9 M1311.3 1283.1V1297.5 M1314.2 1288.2V1303.6 M1317.1 1291.0V1309.4 M1319.9 1287.5V1306.0 M1322.8 1293.0V1303.4 M1325.7 1298.3V1305.1 M1328.5 1297.8V1304.3 M1331.4 1297.4V1302.3 M1334.3 1297.9V1306.5 M1337.1 1299.1V1310.3 M1340.0 1297.6V1307.6 M1342.9 1297.6V1304.4 M1345.8 1298.6V1311.8 M1348.6 1302.1V1316.5 M1351.5 1301.4V1311.7 M1354.4 1298.9V1308.0 M1357.2 1299.6V1309.3 M1360.1 1297.0V1307.2 M1363.0 1300.1V1309.5 M1365.8 1303.7V1311.5 M1368.7 1300.8V1312.6 M1371.6 1296.1V1312.0 M1374.5 1298.0V1311.8 M1377.3 1302.2V1313.5 M1380.2 1301.3V1316.1 M1383.1 1303.7V1319.4 M1385.9 1307.7V1318.9 M1388.8 1307.3V1315.9 M1391.7 1307.0V1314.8 M1394.5 1306.0V1316.0 M1397.4 1303.9V1315.5 M1400.3 1302.6V1317.5 M1403.2 1301.1V1314.4 M1406.0 1302.4V1316.2 M1408.9 1300.4V1319.0 M1411.8 1295.4V1314.4 M1414.6 1299.5V1309.5 M1417.5 1302.6V1309.2 M1420.4 1298.9V1309.0 M1423.2 1295.6V1306.5 M1426.1 1295.3V1307.9 M1429.0 1294.0V1303.3 M1431.9 1286.8V1302.6 M1434.7 1277.6V1298.6 M1437.6 1271.6V1290.0 M1440.5 1260.4V1280.9 M1443.3 1239.7V1274.2 M1446.2 1221.9V1263.0 M1449.1 1210.9V1242.3 M1451.9 1201.5V1224.4 M1454.8 1185.8V1212.9 M1457.7 1167.9V1205.7 M1460.6 1158.1V1190.0 M1463.4 1150.4V1169.9 M1466.3 1139.2V1161.7 M1469.2 1125.0V1154.0 M1472.0 1099.9V1143.8 M1474.9 1079.3V1129.9 M1477.8 1069.4V1105.8 M1480.6 1059.6V1084.9 M1483.5 1046.2V1071.5 M1486.4 1032.6V1069.5 M1489.3 1025.4V1057.8 M1492.1 1021.4V1041.2 M1495.0 1021.8V1033.9 M1497.9 1020.4V1032.6 M1500.7 1007.6V1032.3 M1503.6 996.7V1026.2 M1506.5 996.6V1025.8 M1509.3 1004.5V1025.2 M1512.2 1010.2V1028.1 M1515.1 1007.4V1035.1 M1518.0 1007.1V1028.8 M1520.8 1010.7V1028.0 M1523.7 1008.2V1027.2 M1526.6 1009.7V1026.0 M1529.4 1007.8V1025.5 M1532.3 1006.3V1020.9 M1535.2 1006.8V1018.8 M1538.0 1003.7V1017.7 M1540.9 1002.6V1018.3 M1543.8 996.7V1019.2 M1546.7 991.6V1027.1 M1549.5 994.9V1031.1 M1552.4 995.5V1031.4 M1555.3 987.3V1023.9 M1558.1 987.3V1016.6 M1561.0 990.7V1016.9 M1563.9 1002.2V1017.1 M1566.7 1002.3V1020.5 M1569.6 1004.5V1025.4 M1572.5 1003.3V1021.5 M1575.4 1006.2V1023.7 M1578.2 1007.7V1023.9 M1581.1 1006.2V1034.4 M1584.0 1005.7V1025.2 M1586.8 1006.2V1025.6 M1589.7 1009.3V1024.4 M1592.6 1011.3V1029.5 M1595.4 1012.0V1042.7 M1598.3 1014.5V1043.1 M1601.2 1012.4V1036.7 M1604.1 1020.3V1034.9 M1606.9 1029.7V1041.4 M1609.8 1028.5V1046.1 M1612.7 1027.9V1054.9 M1615.5 1036.0V1074.9 M1618.4 1052.9V1091.4 M1621.3 1072.9V1105.9 M1624.1 1087.5V1128.2 M1627.0 1101.9V1149.6 M1629.9 1126.2V1161.9 M1632.8 1144.6V1174.1 M1635.6 1157.0V1187.2 M1638.5 1172.1V1197.9 M1641.4 1184.0V1215.0 M1644.2 1194.7V1231.0 M1647.1 1209.4V1240.9 M1650.0 1225.3V1253.3 M1652.8 1238.9V1265.3 M1655.7 1251.3V1278.3 M1658.6 1263.3V1290.7 M1661.5 1276.3V1296.4 M1664.3 1288.7V1301.1 M1667.2 1294.1V1309.2 M1670.1 1298.9V1314.9 M1672.9 1306.5V1317.9 M1675.8 1304.2V1320.5 M1678.7 1308.8V1320.9 M1681.5 1311.6V1319.9 M1684.4 1307.8V1322.4 M1687.3 1308.2V1325.2 M1690.2 1314.4V1325.0 M1693.0 1319.3V1323.7 M1695.9 1316.0V1322.6 M1698.8 1313.4V1322.0 M1701.6 1315.2V1328.6 M1704.5 1318.1V1333.7 M1707.4 1318.7V1330.0 M1710.2 1317.2V1333.7 M1713.1 1316.2V1329.3 M1716.0 1318.4V1325.5 M1718.9 1318.6V1326.3 M1721.7 1314.3V1326.0 M1724.6 1309.8V1325.0 M1727.5 1308.3V1324.7 M1730.3 1311.7V1325.7 M1733.2 1317.0V1326.4 M1736.1 1317.5V1325.7 M1738.9 1313.1V1325.0 M1741.8 1310.6V1324.2 M1744.7 1311.8V1330.8 M1747.6 1314.1V1327.7 M1750.4 1315.3V1324.2 M1753.3 1314.9V1323.4 M1756.2 1314.9V1321.5 M1759.0 1314.9V1321.2 M1761.9 1315.1V1321.9 M1764.8 1316.2V1324.3 M1767.6 1314.3V1326.6 M1770.5 1311.8V1324.6 M1773.4 1312.1V1324.0 M1776.3 1314.8V1323.8 M1779.1 1316.3V1323.4 M1782.0 1313.8V1322.8 M1784.9 1309.4V1322.3 M1787.7 1307.5V1321.0 M1790.6 1311.4V1319.6 M1793.5 1314.9V1321.0 M1796.3 1316.0V1321.6 M1799.2 1314.8V1322.2 M1802.1 1312.9V1324.6 M1805.0 1312.6V1324.1 M1807.8 1312.7V1321.2 M1810.7 1314.2V1322.8 M1813.6 1315.3V1322.7 M1816.4 1314.8V1321.2 M1819.3 1313.3V1319.1 M1822.2 1310.7V1318.9 M1825.0 1306.7V1319.0 M1827.9 1303.8V1316.4 M1830.8 1307.2V1322.3 M1833.7 1313.7V1325.0 M1836.5 1309.2V1324.2 M1839.4 1306.9V1321.6 M1842.3 1309.1V1320.0 M1845.1 1310.1V1320.1 M1848.0 1310.6V1318.6 M1850.9 1312.2V1320.9 M1853.7 1312.8V1321.0 M1856.6 1311.3V1320.0 M1859.5 1310.6V1318.0 M1862.4 1310.2V1319.1 M1865.2 1312.6V1319.3 M1868.1 1312.6V1322.8 M1871.0 1310.7V1326.5 M1873.8 1310.7V1323.5 M1876.7 1311.6V1320.8 M1879.6 1311.9V1324.5 M1882.4 1307.8V1320.5 M1885.3 1303.0V1320.5 M1888.2 1300.4V1321.4 M1891.1 1302.6V1320.3 M1893.9 1306.6V1317.2 M1896.8 1310.0V1320.9 M1899.7 1311.0V1318.2 M1902.5 1308.9V1316.2 M1905.4 1307.1V1316.4 M1908.3 1307.3V1315.7 M1911.1 1309.0V1318.9 M1914.0 1308.1V1318.0 M1916.9 1305.1V1319.0 M1919.8 1306.1V1316.4 M1922.6 1303.5V1313.2 M1925.5 1298.2V1312.8 M1928.4 1297.7V1313.9 M1931.2 1301.3V1316.2 M1934.1 1304.4V1317.5 M1937.0 1304.3V1316.7 M1939.8 1303.9V1312.5 M1942.7 1304.5V1309.7 M1945.6 1304.6V1312.2 M1948.5 1302.9V1313.9 M1951.3 1297.3V1313.0 M1954.2 1297.4V1311.6 M1957.1 1298.5V1317.2 M1959.9 1303.4V1322.7 M1962.8 1305.6V1320.6 M1965.7 1305.1V1317.4 M1968.5 1303.0V1315.2 M1971.4 1305.1V1313.7 M1974.3 1305.6V1311.8 M1977.2 1306.3V1312.0 M1980.0 1306.3V1314.5 M1982.9 1305.5V1317.5 M1985.8 1304.9V1318.7 M1988.6 1306.1V1318.4 M1991.5 1310.1V1319.6 M1994.4 1308.6V1318.6 M1997.2 1307.6V1315.8 M2000.1 1305.9V1313.7 M2003.0 1303.7V1314.3 M2005.9 1306.8V1316.5 M2008.7 1308.7V1315.2 M2011.6 1306.6V1315.1 M2014.5 1301.2V1313.9 M2017.3 1297.3V1315.7 M2020.2 1300.6V1316.0 M2023.1 1303.8V1314.8 M2025.9 1304.4V1314.1 M2028.8 1301.4V1313.1 M2031.7 1300.3V1312.9 M2034.6 1300.3V1313.9 M2037.4 1301.0V1313.6 M2040.3 1298.2V1316.9 M2043.2 1296.2V1315.2 M2046.0 1299.7V1313.9 M2048.9 1295.0V1312.7 M2051.8 1299.8V1312.8 M2054.6 1298.4V1314.3 M2057.5 1294.0V1314.1 M2060.4 1297.6V1315.8 M2063.3 1300.0V1314.9 M2066.1 1298.3V1314.3 M2069.0 1300.4V1313.7 M2070.6 1304.3V1311.5"/>
<polygon points="346.2,935.2 374.7,964.2 346.2,993.2 317.7,964.2" fill="#67658f"/>
<polygon points="903.7,734.0 932.2,763.0 903.7,792.0 875.2,763.0" fill="#67658f"/>
<polygon points="1461.4,1140.0 1489.9,1169.0 1461.4,1198.0 1432.9,1169.0" fill="#67658f"/>
<polygon points="2018.6,1282.4 2047.1,1311.4 2018.6,1340.4 1990.1,1311.4" fill="#67658f"/>
<path fill="none" stroke="#2d3c8c" stroke-width="2.87" clip-path="url(#cl)" d="M347.7 863.6V896.1 M349.9 853.4V891.1 M352.7 864.0V887.0 M355.6 865.1V884.6 M358.5 856.8V879.8 M361.3 857.2V881.5 M364.2 864.1V886.5 M367.1 868.7V887.8 M370.0 862.3V886.8 M372.8 866.8V884.4 M375.7 865.8V884.4 M378.6 864.7V887.2 M381.4 872.3V889.3 M384.3 877.2V894.4 M387.2 876.0V891.1 M390.0 875.3V889.7 M392.9 874.8V894.0 M395.8 876.3V892.7 M398.7 870.8V891.9 M401.5 860.5V888.5 M404.4 856.5V886.0 M407.3 863.9V885.2 M410.1 867.8V880.9 M413.0 868.6V883.1 M415.9 872.1V885.1 M418.7 868.8V886.3 M421.6 863.7V884.0 M424.5 864.6V880.7 M427.4 865.9V877.6 M430.2 866.6V877.2 M433.1 865.7V880.5 M436.0 856.9V887.4 M438.8 847.5V891.5 M441.7 851.4V890.1 M444.6 849.1V881.0 M447.4 854.4V876.6 M450.3 854.2V880.3 M453.2 840.7V878.9 M456.1 836.0V870.2 M458.9 844.0V860.8 M461.8 851.1V870.2 M464.7 842.2V878.8 M467.5 836.4V867.6 M470.4 835.5V852.8 M473.3 836.1V848.5 M476.1 837.0V855.2 M479.0 835.0V854.6 M481.9 828.6V848.9 M484.8 827.1V840.0 M487.6 817.1V834.4 M490.5 806.7V829.8 M493.4 802.8V820.2 M496.2 799.7V811.4 M499.1 794.2V807.8 M502.0 785.5V803.8 M504.8 772.5V801.2 M507.7 757.4V791.8 M510.6 744.3V774.5 M513.5 731.2V759.4 M516.3 716.2V746.3 M519.2 697.3V735.1 M522.1 673.3V720.5 M524.9 648.4V699.7 M527.8 623.5V675.3 M530.7 593.5V650.4 M533.5 558.7V625.5 M536.4 526.2V595.5 M539.3 494.0V560.7 M542.2 453.3V528.2 M545.0 391.7V496.0 M547.9 319.9V455.3 M550.8 267.9V393.7 M553.6 240.5V321.9 M556.5 221.3V269.9 M559.4 205.0V242.5 M562.2 190.7V223.3 M565.1 175.5V207.0 M568.0 162.2V192.7 M570.9 149.6V177.5 M573.7 137.8V164.2 M576.6 128.0V151.6 M579.5 118.6V140.9 M582.3 112.9V131.1 M585.2 111.5V122.5 M588.1 105.8V117.5 M590.9 100.5V114.2 M593.8 99.0V108.8 M596.7 97.6V104.3 M599.6 96.9V103.2 M602.4 97.6V102.4 M605.3 98.3V104.9 M608.2 98.2V108.3 M611.0 102.1V111.7 M613.9 106.0V116.4 M616.8 109.4V122.4 M619.6 114.4V129.4 M622.5 120.4V138.3 M625.4 127.4V150.2 M628.3 136.3V162.5 M631.1 148.2V172.4 M634.0 159.7V184.1 M636.9 169.7V199.2 M639.7 182.1V215.3 M642.6 197.2V234.4 M645.5 213.3V263.6 M648.3 232.4V317.8 M651.2 261.6V371.9 M654.1 315.8V413.8 M657.0 369.9V450.1 M659.8 411.8V473.8 M662.7 448.1V490.0 M665.6 469.3V513.5 M668.4 485.5V540.8 M671.3 511.5V560.3 M674.2 538.8V576.3 M677.0 558.2V590.7 M679.9 574.3V609.7 M682.8 588.7V630.3 M685.7 607.7V646.1 M688.5 628.3V660.3 M691.4 640.5V677.8 M694.3 652.9V690.3 M697.1 672.7V698.6 M700.0 684.1V707.6 M702.9 693.7V715.7 M705.7 705.6V724.5 M708.6 713.7V737.9 M711.5 722.4V747.2 M714.4 734.1V751.9 M717.2 743.0V758.6 M720.1 749.2V769.2 M723.0 755.3V780.9 M725.8 762.5V794.2 M728.7 774.9V807.1 M731.6 784.6V810.4 M734.4 797.4V815.2 M737.3 807.2V824.0 M740.2 812.0V832.4 M743.1 821.9V837.1 M745.9 824.1V842.1 M748.8 830.5V847.7 M751.7 840.1V851.5 M754.5 844.0V861.6 M757.4 845.7V871.8 M760.3 853.3V877.1 M763.1 863.9V886.2 M766.0 868.2V891.8 M768.9 870.9V890.3 M771.8 870.8V890.6 M774.6 869.6V894.0 M777.5 867.7V897.0 M780.4 874.1V901.1 M783.2 886.8V901.5 M786.1 894.7V910.6 M789.0 896.6V920.7 M791.8 897.5V922.5 M794.7 898.5V919.6 M797.6 900.4V919.3 M800.5 906.6V927.4 M803.3 916.3V936.1 M806.2 921.1V949.9 M809.1 921.6V959.1 M811.9 928.5V958.6 M814.8 929.7V951.8 M817.7 931.4V945.5 M820.5 927.7V941.6 M823.4 928.6V948.3 M826.3 930.7V950.4 M829.2 937.1V950.4 M832.0 936.5V949.0 M834.9 936.5V953.1 M837.8 941.9V964.7 M840.6 949.4V972.8 M843.5 953.7V966.6 M846.4 951.9V967.1 M849.2 947.8V968.3 M852.1 947.7V965.4 M855.0 949.3V962.1 M857.9 952.7V969.4 M860.7 959.1V973.1 M863.6 962.0V977.1 M866.5 963.1V982.8 M869.3 963.6V985.6 M872.2 966.5V990.6 M875.1 971.8V994.4 M877.9 970.9V992.6 M880.8 970.5V993.5 M883.7 971.7V995.9 M886.6 974.4V992.6 M889.4 973.6V990.7 M892.3 972.1V991.3 M895.2 971.4V989.3 M898.0 970.9V984.3 M900.9 970.5V988.7 M903.8 973.2V1001.7 M906.6 978.9V1007.8 M909.5 975.1V1003.5 M912.4 971.0V993.8 M915.3 975.4V993.4 M918.1 977.1V997.1 M921.0 975.6V989.7 M923.9 978.0V990.5 M926.7 980.1V995.2 M929.6 981.0V1000.8 M932.5 980.9V1001.7 M935.3 977.8V993.8 M938.2 977.3V988.8 M941.1 974.0V1000.7 M944.0 973.2V1013.2 M946.8 982.4V1009.9 M949.7 982.3V1004.3 M952.6 974.8V1000.0 M955.4 973.8V995.4 M958.3 976.0V990.2 M961.2 977.8V998.0 M964.0 975.0V1002.8 M966.9 977.8V997.9 M969.8 982.4V994.3 M972.7 987.0V994.4 M975.5 989.5V995.6 M978.4 989.6V999.6 M981.3 990.5V1002.0 M984.1 990.6V1001.3 M987.0 991.1V1007.3 M989.9 992.4V1012.9 M992.7 981.6V1010.3 M995.6 973.8V1003.2 M998.5 982.8V1004.4 M1001.4 986.3V1008.7 M1004.2 976.4V1007.5 M1007.1 973.9V1004.0 M1010.0 980.3V1000.5 M1012.8 985.4V998.1 M1015.7 977.2V995.9 M1018.6 968.6V993.0 M1021.4 969.4V986.4 M1024.3 971.1V987.5 M1027.2 971.3V983.8 M1030.1 971.9V986.1 M1032.9 972.3V984.7 M1035.8 961.5V981.4 M1038.7 952.6V982.1 M1041.5 960.0V985.4 M1044.4 967.4V982.2 M1047.3 965.5V976.2 M1050.1 964.4V979.6 M1053.0 961.4V976.9 M1055.9 954.1V972.8 M1058.8 945.9V969.8 M1061.6 946.8V967.8 M1064.5 947.4V971.2 M1067.4 948.5V973.5 M1070.2 951.1V969.0 M1073.1 937.4V961.3 M1076.0 926.8V956.6 M1078.8 935.5V954.5 M1081.7 932.9V952.2 M1084.6 931.3V946.2 M1087.5 926.1V940.5 M1090.3 922.5V940.3 M1093.2 917.4V941.5 M1096.1 908.0V938.0 M1098.9 914.9V937.3 M1101.8 913.0V943.5 M1104.7 910.2V933.3 M1107.5 910.0V921.4 M1110.4 895.5V918.1 M1113.3 882.1V914.3 M1116.2 886.7V909.6 M1119.0 890.2V906.5 M1121.9 886.5V902.7 M1124.8 888.2V903.2 M1127.6 887.3V900.4 M1130.5 881.8V896.2 M1133.4 881.0V893.6 M1136.2 881.2V897.4 M1139.1 882.2V900.2 M1142.0 881.4V900.8 M1144.9 883.0V901.9 M1147.7 888.5V903.4 M1150.6 887.5V906.8 M1153.5 889.9V909.0 M1156.3 884.7V911.8 M1159.2 885.0V918.3 M1162.1 894.3V927.7 M1164.9 898.7V934.9 M1167.8 905.2V936.7 M1170.7 919.5V936.7 M1173.6 920.1V942.7 M1176.4 913.9V950.1 M1179.3 922.9V946.3 M1182.2 931.8V946.7 M1185.0 935.9V953.0 M1187.9 939.6V961.0 M1190.8 939.4V965.8 M1193.6 941.0V959.3 M1196.5 941.4V967.2 M1199.4 938.2V967.7 M1202.3 935.2V966.8 M1205.1 934.4V963.2 M1208.0 937.2V964.3 M1210.9 949.6V969.4 M1213.7 960.0V977.3 M1216.6 957.3V983.8 M1219.5 951.8V985.8 M1222.3 962.0V992.5 M1225.2 978.2V997.7 M1228.1 965.2V996.7 M1231.0 956.1V993.6 M1233.8 965.5V993.8 M1236.7 977.1V991.6 M1239.6 973.3V987.6 M1242.4 969.1V989.6 M1245.3 966.0V998.3 M1248.2 969.3V999.4 M1251.0 976.8V1000.0 M1253.9 983.2V997.9 M1256.8 982.5V996.2 M1259.7 983.7V996.2 M1262.5 981.9V996.6 M1265.4 982.0V1000.1 M1268.3 982.7V1000.8 M1271.1 975.4V1010.6 M1274.0 986.2V1020.5 M1276.9 985.6V1015.7 M1279.7 989.5V1015.6 M1282.6 994.6V1012.9 M1285.5 995.0V1010.3 M1288.4 995.5V1011.5 M1291.2 995.6V1018.6 M1294.1 999.0V1021.4 M1297.0 997.4V1014.0 M1299.8 996.8V1016.4 M1302.7 989.0V1014.6 M1305.6 989.1V1013.3 M1308.4 990.5V1014.9 M1311.3 992.3V1020.5 M1314.2 1000.3V1027.6 M1317.1 1012.6V1034.2 M1319.9 1014.2V1032.0 M1322.8 1008.1V1034.2 M1325.7 1005.2V1037.0 M1328.5 1006.6V1032.5 M1331.4 1003.3V1027.4 M1334.3 1004.5V1027.5 M1337.1 1013.0V1029.5 M1340.0 1014.0V1030.5 M1342.9 1015.0V1031.3 M1345.8 1019.1V1032.4 M1348.6 1020.6V1034.8 M1351.5 1015.5V1032.7 M1354.4 1020.3V1038.8 M1357.2 1027.9V1043.4 M1360.1 1027.8V1044.4 M1363.0 1022.8V1039.4 M1365.8 1021.1V1039.7 M1368.7 1023.5V1039.6 M1371.6 1022.4V1036.7 M1374.5 1024.5V1043.5 M1377.3 1030.8V1044.9 M1380.2 1023.8V1044.5 M1383.1 1028.8V1049.2 M1385.9 1033.9V1048.5 M1388.8 1035.3V1048.9 M1391.7 1034.1V1048.6 M1394.5 1038.1V1053.1 M1397.4 1039.6V1052.3 M1400.3 1028.9V1048.1 M1403.2 1019.4V1043.7 M1406.0 1027.4V1049.1 M1408.9 1038.0V1051.3 M1411.8 1037.7V1049.3 M1414.6 1038.0V1046.5 M1417.5 1039.8V1058.6 M1420.4 1043.6V1069.4 M1423.2 1043.1V1065.1 M1426.1 1039.6V1054.5 M1429.0 1034.2V1049.5 M1431.9 1030.4V1047.5 M1434.7 1031.9V1051.5 M1437.6 1027.6V1057.6 M1440.5 1039.2V1062.3 M1443.3 1042.9V1059.2 M1446.2 1039.7V1054.1 M1449.1 1040.2V1058.1 M1451.9 1045.7V1060.3 M1454.8 1044.1V1063.0 M1457.7 1043.0V1069.9 M1460.6 1045.2V1069.3 M1463.4 1043.3V1066.2 M1466.3 1046.6V1068.2 M1469.2 1044.1V1076.0 M1472.0 1042.0V1070.6 M1474.9 1044.6V1061.5 M1477.8 1040.0V1057.3 M1480.6 1042.3V1064.6 M1483.5 1044.9V1071.6 M1486.4 1045.3V1065.9 M1489.3 1050.4V1060.2 M1492.1 1039.6V1059.5 M1495.0 1028.9V1059.6 M1497.9 1038.5V1061.1 M1500.7 1048.0V1060.8 M1503.6 1050.7V1066.7 M1506.5 1051.5V1067.3 M1509.3 1043.9V1067.6 M1512.2 1033.0V1062.8 M1515.1 1039.6V1059.2 M1518.0 1029.6V1059.1 M1520.8 1037.4V1059.3 M1523.7 1040.1V1061.9 M1526.6 1042.7V1061.6 M1529.4 1047.2V1061.1 M1532.3 1049.8V1060.8 M1535.2 1050.7V1074.1 M1538.0 1055.5V1080.4 M1540.9 1057.8V1076.1 M1543.8 1055.7V1079.9 M1546.7 1055.6V1083.9 M1549.5 1058.2V1082.2 M1552.4 1060.1V1077.1 M1555.3 1052.6V1085.2 M1558.1 1044.1V1086.2 M1561.0 1046.1V1074.3 M1563.9 1046.8V1072.6 M1566.7 1052.4V1073.8 M1569.6 1050.0V1074.6 M1572.5 1042.4V1072.9 M1575.4 1053.2V1071.0 M1578.2 1048.3V1072.5 M1581.1 1053.5V1075.5 M1584.0 1050.3V1068.1 M1586.8 1054.3V1070.9 M1589.7 1059.0V1069.3 M1592.6 1056.7V1071.6 M1595.4 1050.1V1077.5 M1598.3 1056.4V1084.9 M1601.2 1055.7V1087.6 M1604.1 1046.1V1084.7 M1606.9 1051.9V1080.0 M1609.8 1052.2V1087.6 M1612.7 1049.2V1081.6 M1615.5 1054.0V1077.7 M1618.4 1062.0V1074.1 M1621.3 1065.5V1081.9 M1624.1 1060.0V1091.4 M1627.0 1056.9V1081.7 M1629.9 1056.9V1091.2 M1632.8 1059.9V1093.0 M1635.6 1055.8V1085.9 M1638.5 1054.5V1074.4 M1641.4 1060.1V1077.2 M1644.2 1058.0V1074.0 M1647.1 1058.4V1074.2 M1650.0 1062.7V1077.3 M1652.8 1062.8V1073.6 M1655.7 1062.0V1072.5 M1658.6 1063.1V1081.7 M1661.5 1058.5V1091.8 M1664.3 1049.6V1086.7 M1667.2 1060.2V1081.2 M1670.1 1059.5V1076.8 M1672.9 1063.9V1082.0 M1675.8 1067.6V1089.5 M1678.7 1070.6V1085.1 M1681.5 1070.5V1080.3 M1684.4 1066.1V1082.7 M1687.3 1070.6V1092.2 M1690.2 1064.1V1098.0 M1693.0 1057.0V1090.6 M1695.9 1065.1V1085.2 M1698.8 1074.3V1087.2 M1701.6 1077.0V1089.2 M1704.5 1073.8V1093.3 M1707.4 1075.7V1093.4 M1710.2 1068.3V1091.7 M1713.1 1064.6V1091.8 M1716.0 1074.1V1098.0 M1718.9 1075.8V1094.9 M1721.7 1076.0V1094.9 M1724.6 1074.4V1095.9 M1727.5 1068.3V1093.9 M1730.3 1072.6V1090.7 M1733.2 1070.1V1102.4 M1736.1 1076.4V1110.1 M1738.9 1079.9V1108.1 M1741.8 1080.2V1105.1 M1744.7 1073.1V1102.8 M1747.6 1067.4V1105.9 M1750.4 1074.9V1104.9 M1753.3 1070.7V1103.5 M1756.2 1079.0V1111.9 M1759.0 1083.9V1114.5 M1761.9 1086.1V1106.0 M1764.8 1080.5V1109.2 M1767.6 1076.4V1101.9 M1770.5 1083.1V1102.0 M1773.4 1084.8V1104.5 M1776.3 1079.4V1113.1 M1779.1 1084.4V1119.5 M1782.0 1080.3V1113.9 M1784.9 1085.9V1104.1 M1787.7 1091.1V1105.2 M1790.6 1091.2V1111.2 M1793.5 1092.8V1112.8 M1796.3 1094.3V1107.8 M1799.2 1094.1V1108.5 M1802.1 1095.8V1112.2 M1805.0 1098.3V1113.4 M1807.8 1092.7V1109.5 M1810.7 1089.8V1114.4 M1813.6 1090.1V1115.3 M1816.4 1095.4V1114.7 M1819.3 1095.6V1112.7 M1822.2 1096.3V1110.8 M1825.0 1101.3V1116.4 M1827.9 1099.5V1120.1 M1830.8 1092.3V1114.4 M1833.7 1096.4V1113.7 M1836.5 1104.5V1116.6 M1839.4 1103.4V1116.1 M1842.3 1106.1V1117.7 M1845.1 1104.5V1119.0 M1848.0 1105.7V1120.5 M1850.9 1110.3V1121.1 M1853.7 1109.1V1119.1 M1856.6 1107.0V1116.8 M1859.5 1102.8V1121.5 M1862.4 1104.5V1128.8 M1865.2 1105.1V1131.3 M1868.1 1110.3V1129.3 M1871.0 1115.1V1129.9 M1873.8 1117.1V1131.4 M1876.7 1116.6V1133.7 M1879.6 1114.7V1134.6 M1882.4 1115.9V1138.0 M1885.3 1113.8V1141.9 M1888.2 1117.7V1143.0 M1891.1 1115.7V1136.2 M1893.9 1118.7V1140.7 M1896.8 1122.8V1148.6 M1899.7 1122.9V1149.4 M1902.5 1128.4V1145.5 M1905.4 1124.4V1138.7 M1908.3 1125.7V1145.6 M1911.1 1126.2V1152.7 M1914.0 1128.1V1150.0 M1916.9 1126.2V1142.0 M1919.8 1125.1V1143.8 M1922.6 1126.9V1149.0 M1925.5 1130.7V1151.9 M1928.4 1130.8V1157.1 M1931.2 1130.3V1150.8 M1934.1 1131.8V1156.2 M1937.0 1136.7V1153.8 M1939.8 1141.2V1150.8 M1942.7 1139.7V1154.7 M1945.6 1134.7V1159.6 M1948.5 1135.0V1154.4 M1951.3 1134.9V1155.6 M1954.2 1129.8V1163.4 M1957.1 1122.1V1165.9 M1959.9 1127.2V1158.5 M1962.8 1135.7V1151.6 M1965.7 1142.9V1155.8 M1968.5 1138.6V1159.0 M1971.4 1141.8V1158.4 M1974.3 1140.3V1158.4 M1977.2 1132.6V1154.2 M1980.0 1134.4V1153.9 M1982.9 1140.8V1159.0 M1985.8 1146.6V1167.4 M1988.6 1148.9V1176.6 M1991.5 1153.5V1170.5 M1994.4 1150.5V1169.3 M1997.2 1150.9V1177.2 M2000.1 1152.4V1179.6 M2003.0 1152.0V1182.1 M2005.9 1152.7V1178.7 M2008.7 1150.1V1174.1 M2011.6 1151.7V1169.1 M2014.5 1150.4V1173.6 M2017.3 1156.1V1173.5 M2020.2 1155.4V1171.7 M2023.1 1154.0V1168.2 M2025.9 1155.6V1170.2 M2028.8 1147.0V1170.4 M2031.7 1155.5V1182.2 M2034.6 1166.5V1191.3 M2037.4 1166.9V1191.7 M2040.3 1163.0V1185.2 M2043.2 1160.0V1175.8 M2046.0 1164.0V1178.4 M2048.9 1162.2V1178.9 M2051.8 1159.0V1179.4 M2054.6 1157.6V1181.8 M2057.5 1159.7V1184.6 M2060.4 1149.1V1187.1 M2063.3 1150.9V1181.3 M2066.1 1162.6V1182.6 M2069.0 1164.1V1186.4 M2070.6 1169.8V1183.5"/>
<polyline fill="none" stroke="#2d3c8c" stroke-width="2" clip-path="url(#cu)" points="597.4,346 597.6,282 600.2,268 600.4,200 603.2,149 603.6,228 606.7,172 606.9,227 609.2,200 609.4,272 612.1,251 612.3,346"/>
<rect x="285.2" y="67" width="2.8" height="274" fill="#7c807a"/>
<rect x="291" y="67" width="2.8" height="274" fill="#929590"/>
<rect x="288" y="67" width="3" height="274" fill="#080b06"/>
<rect x="285.2" y="370" width="2.8" height="1135" fill="#7c807a"/>
<rect x="291" y="370" width="2.8" height="1135" fill="#929590"/>
<rect x="288" y="370" width="3" height="1135" fill="#080b06"/>
<rect x="288" y="1502" width="1781" height="5.6" fill="#080b06"/>
<rect x="262" y="66.9" width="27" height="5.2" fill="#080b06"/>
<rect x="262" y="339.9" width="27" height="5.2" fill="#080b06"/>
<rect x="262" y="435.7" width="27" height="5.2" fill="#080b06"/>
<rect x="262" y="1384.3" width="27" height="5.2" fill="#080b06"/>
<rect x="274" y="203.1" width="15" height="5.2" fill="#080b06"/>
<rect x="274" y="909.8" width="15" height="5.2" fill="#080b06"/>
<rect x="918.35" y="1505" width="5.3" height="28" fill="#080b06"/>
<rect x="1206.35" y="1505" width="5.3" height="28" fill="#080b06"/>
<rect x="1780.35" y="1505" width="5.3" height="28" fill="#080b06"/>
<rect x="602.35" y="1505" width="5.3" height="13.5" fill="#080b06"/>
<rect x="1578.45" y="1505" width="5.3" height="13.5" fill="#080b06"/>
<polygon points="262.1,351.9 316.9,328.7 316.9,336.1 262.1,359.3" fill="#080b06"/>
<polygon points="262.1,378.3 316.9,353.4 316.9,360.4 262.1,385.5" fill="#080b06"/>
<text transform="translate(241,86.9) scale(0.965,1)" font-family="Liberation Sans, Arial, sans-serif" font-size="63" text-anchor="end" fill="#000">26000</text>
<text transform="translate(241,361.0) scale(0.965,1)" font-family="Liberation Sans, Arial, sans-serif" font-size="63" text-anchor="end" fill="#000">24000</text>
<text transform="translate(241,457.4) scale(0.965,1)" font-family="Liberation Sans, Arial, sans-serif" font-size="63" text-anchor="end" fill="#000">4000</text>
<text transform="translate(241,1405.0) scale(0.965,1)" font-family="Liberation Sans, Arial, sans-serif" font-size="63" text-anchor="end" fill="#000">0</text>
<text transform="translate(604.9,1600.8) scale(0.965,1)" font-family="Liberation Sans, Arial, sans-serif" font-size="63" text-anchor="middle" fill="#000">9.5</text>
<text transform="translate(922.8,1600.8) scale(0.965,1)" font-family="Liberation Sans, Arial, sans-serif" font-size="63" text-anchor="middle" fill="#000">15</text>
<text transform="translate(1207.7,1600.8) scale(0.965,1)" font-family="Liberation Sans, Arial, sans-serif" font-size="63" text-anchor="middle" fill="#000">20</text>
<text transform="translate(1581.3,1600.8) scale(0.965,1)" font-family="Liberation Sans, Arial, sans-serif" font-size="63" text-anchor="middle" fill="#000">26.5</text>
<text transform="translate(1782.2,1600.8) scale(0.965,1)" font-family="Liberation Sans, Arial, sans-serif" font-size="63" text-anchor="middle" fill="#000">30</text>
<text transform="translate(1180.1,1714.7) scale(0.973,1)" font-family="Liberation Sans, Arial, sans-serif" font-size="77.5" text-anchor="middle" fill="#000">2 Theta (degree)</text>
<text transform="translate(90.5,831.8) rotate(-90) scale(0.96,1)" font-family="Liberation Sans, Arial, sans-serif" font-size="78" text-anchor="middle" fill="#000">Intenstiy (a.u.)</text>
<rect x="1729.4" y="127.8" width="165.5" height="2.8" fill="#ff8a76"/>
<rect x="1792.5" y="107.3" width="38.5" height="41" fill="#ff4422"/>
<text transform="translate(1914,153.6) scale(0.945,1)" font-family="Liberation Sans, Arial, sans-serif" font-size="71" fill="#000">C8W5E0</text>
<rect x="1729.4" y="217.9" width="165.5" height="2.8" fill="#0e5e8c"/>
<circle cx="1812.2" cy="219.6" r="22" fill="#116189"/>
<text transform="translate(1914,245.4) scale(0.945,1)" font-family="Liberation Sans, Arial, sans-serif" font-size="71" fill="#000">C8W0E0</text>
<rect x="1729.4" y="310.8" width="165.5" height="2.8" fill="#fda822"/>
<polygon points="1812.2,280.5 1839.6,328.6 1784.8,328.6" fill="#fdae22"/>
<text transform="translate(1914,338.0) scale(0.945,1)" font-family="Liberation Sans, Arial, sans-serif" font-size="71" fill="#000">C8W0E10</text>
<rect x="1729.4" y="400.8" width="165.5" height="5.6" fill="#cdebd7"/>
<polygon points="1784.8,389.5 1839.6,389.5 1812.2,435.3" fill="#00b064"/>
<text transform="translate(1914,429.6) scale(0.945,1)" font-family="Liberation Sans, Arial, sans-serif" font-size="71" fill="#000">Graphite</text>
<rect x="1729.4" y="493.8" width="165.5" height="2.8" fill="#67658f"/>
<polygon points="1812,467.4 1839.6,496.4 1812,525.4 1784.4,496.4" fill="#67658f"/>
<text transform="translate(1914,520.0) scale(0.945,1)" font-family="Liberation Sans, Arial, sans-serif" font-size="71" fill="#000">EG</text>
<rect x="1729.4" y="586.7" width="165.5" height="2.8" fill="#2d3a8c"/>
<text transform="translate(1914,613.5) scale(0.945,1)" font-family="Liberation Sans, Arial, sans-serif" font-size="71" fill="#000">GO</text>
</svg>
</body></html>
